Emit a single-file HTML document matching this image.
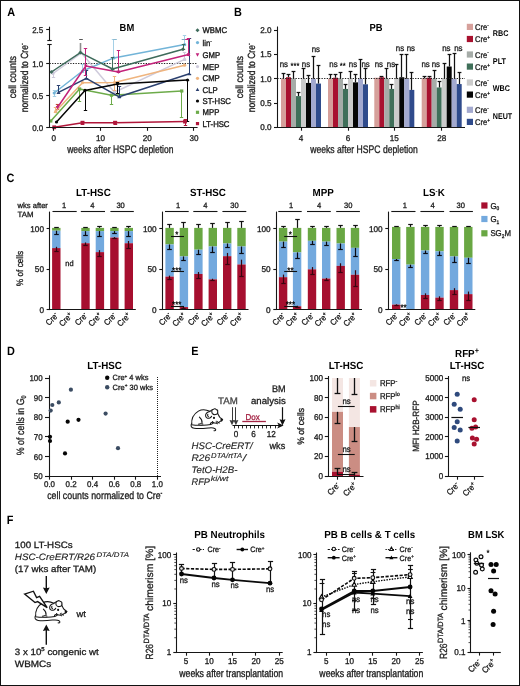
<!DOCTYPE html>
<html lang="en"><head><meta charset="utf-8"><title>Figure</title>
<style>
html,body{margin:0;padding:0;background:#fff;}
body{width:520px;height:686px;overflow:hidden;}
svg{display:block;font-family:"Liberation Sans",sans-serif;filter:blur(0.4px);}
#fig{position:relative;width:520px;height:686px;box-sizing:border-box;}
#frame{position:absolute;left:0;top:0;width:520px;height:686px;box-sizing:border-box;border:1px solid #111;pointer-events:none;}
</style></head><body>
<div id="fig">
<svg width="520" height="686" viewBox="0 0 520 686" text-rendering="geometricPrecision">
<rect x="0" y="0" width="520" height="686" fill="#fff"/>
<text transform="translate(7.2,16.2) scale(0.9,1)" font-size="12.1" text-anchor="start" fill="#000" font-weight="bold">A</text>
<text transform="translate(126.9,30.9) scale(0.91,1)" font-size="10.3" text-anchor="middle" fill="#000" font-weight="bold">BM</text>
<text transform="translate(15.8,77.2) rotate(-90) scale(0.86,1)" font-size="10.4" text-anchor="middle" fill="#1a1a1a" stroke="#1a1a1a" stroke-width="0.3">cell counts</text>
<text transform="translate(27.6,77.8) rotate(-90) scale(0.82,1)" font-size="10.4" text-anchor="middle" fill="#1a1a1a" stroke="#1a1a1a" stroke-width="0.3">normalized to Cre<tspan dy="-3.74" font-size="6.45">-</tspan></text>
<line x1="49.5" y1="63.5" x2="197.6" y2="63.5" stroke="#222" stroke-width="1" stroke-dasharray="1.3 1.3"/>
<line x1="80.5" y1="43" x2="80.5" y2="52" stroke="#8c8c8c" stroke-width="1.6"/>
<line x1="80.5" y1="43" x2="80.5" y2="43" stroke="#8c8c8c" stroke-width="1.6"/>
<line x1="80.5" y1="52" x2="80.5" y2="52" stroke="#8c8c8c" stroke-width="1.6"/>
<line x1="57.5" y1="104.4" x2="57.5" y2="109.2" stroke="#c4453c" stroke-width="1.1"/>
<line x1="55.8" y1="104.5" x2="59.2" y2="104.5" stroke="#c4453c" stroke-width="1.1"/>
<line x1="55.8" y1="109.5" x2="59.2" y2="109.5" stroke="#c4453c" stroke-width="1.1"/>
<line x1="53.5" y1="70" x2="53.5" y2="77" stroke="#cfcbdc" stroke-width="1"/>
<line x1="51.8" y1="70.5" x2="55.2" y2="70.5" stroke="#cfcbdc" stroke-width="1"/>
<line x1="51.8" y1="77.5" x2="55.2" y2="77.5" stroke="#cfcbdc" stroke-width="1"/>
<line x1="184.5" y1="52" x2="184.5" y2="60" stroke="#cfcbdc" stroke-width="1"/>
<line x1="182.8" y1="52.5" x2="186.2" y2="52.5" stroke="#cfcbdc" stroke-width="1"/>
<line x1="182.8" y1="60.5" x2="186.2" y2="60.5" stroke="#cfcbdc" stroke-width="1"/>
<path d="M53 73.5 L81.5 53 L114.4 92.3 L184.6 59.4" stroke="#cfcbdc" stroke-width="1.5" fill="none" stroke-linejoin="round"/>
<circle cx="53" cy="73.5" r="1.6" fill="#cfcbdc"/>
<circle cx="81.5" cy="53" r="1.6" fill="#cfcbdc"/>
<circle cx="114.4" cy="92.3" r="1.6" fill="#cfcbdc"/>
<circle cx="184.6" cy="59.4" r="1.6" fill="#cfcbdc"/>
<line x1="55.5" y1="107" x2="55.5" y2="112" stroke="#efb47e" stroke-width="1"/>
<line x1="53.8" y1="107.5" x2="57.2" y2="107.5" stroke="#efb47e" stroke-width="1"/>
<line x1="53.8" y1="112.5" x2="57.2" y2="112.5" stroke="#efb47e" stroke-width="1"/>
<line x1="114.5" y1="76" x2="114.5" y2="90" stroke="#efb47e" stroke-width="1"/>
<line x1="112.8" y1="76.5" x2="116.2" y2="76.5" stroke="#efb47e" stroke-width="1"/>
<line x1="112.8" y1="90.5" x2="116.2" y2="90.5" stroke="#efb47e" stroke-width="1"/>
<path d="M55.6 111.6 L82.5 82.7 L114.4 82.5 L184.6 65.2" stroke="#efb47e" stroke-width="1.5" fill="none" stroke-linejoin="round"/>
<circle cx="55.6" cy="111.6" r="1.6" fill="#efb47e"/>
<circle cx="82.5" cy="82.7" r="1.6" fill="#efb47e"/>
<circle cx="114.4" cy="82.5" r="1.6" fill="#efb47e"/>
<circle cx="184.6" cy="65.2" r="1.6" fill="#efb47e"/>
<line x1="54.5" y1="90" x2="54.5" y2="96" stroke="#a5d0e6" stroke-width="1"/>
<line x1="52.8" y1="90.5" x2="56.2" y2="90.5" stroke="#a5d0e6" stroke-width="1"/>
<line x1="52.8" y1="96.5" x2="56.2" y2="96.5" stroke="#a5d0e6" stroke-width="1"/>
<line x1="82.5" y1="64" x2="82.5" y2="72" stroke="#a5d0e6" stroke-width="1"/>
<line x1="80.8" y1="64.5" x2="84.2" y2="64.5" stroke="#a5d0e6" stroke-width="1"/>
<line x1="80.8" y1="72.5" x2="84.2" y2="72.5" stroke="#a5d0e6" stroke-width="1"/>
<line x1="113.5" y1="39" x2="113.5" y2="58" stroke="#a5d0e6" stroke-width="1"/>
<line x1="111.8" y1="39.5" x2="115.2" y2="39.5" stroke="#a5d0e6" stroke-width="1"/>
<line x1="111.8" y1="58.5" x2="115.2" y2="58.5" stroke="#a5d0e6" stroke-width="1"/>
<line x1="184.5" y1="35" x2="184.5" y2="45" stroke="#a5d0e6" stroke-width="1"/>
<line x1="182.8" y1="35.5" x2="186.2" y2="35.5" stroke="#a5d0e6" stroke-width="1"/>
<line x1="182.8" y1="45.5" x2="186.2" y2="45.5" stroke="#a5d0e6" stroke-width="1"/>
<path d="M54.2 93 L82.5 71 L113.8 57.9 L184.6 44.6" stroke="#72b4d8" stroke-width="1.5" fill="none" stroke-linejoin="round"/>
<circle cx="54.2" cy="93" r="1.6" fill="#72b4d8"/>
<circle cx="82.5" cy="71" r="1.6" fill="#72b4d8"/>
<circle cx="113.8" cy="57.9" r="1.6" fill="#72b4d8"/>
<circle cx="184.6" cy="44.6" r="1.6" fill="#72b4d8"/>
<line x1="79.5" y1="89" x2="79.5" y2="101" stroke="#6dab4a" stroke-width="1"/>
<line x1="77.8" y1="89.5" x2="81.2" y2="89.5" stroke="#6dab4a" stroke-width="1"/>
<line x1="77.8" y1="101.5" x2="81.2" y2="101.5" stroke="#6dab4a" stroke-width="1"/>
<line x1="111.5" y1="95" x2="111.5" y2="104.5" stroke="#6dab4a" stroke-width="1"/>
<line x1="109.8" y1="95.5" x2="113.2" y2="95.5" stroke="#6dab4a" stroke-width="1"/>
<line x1="109.8" y1="104.5" x2="113.2" y2="104.5" stroke="#6dab4a" stroke-width="1"/>
<line x1="181.5" y1="91" x2="181.5" y2="117.3" stroke="#6dab4a" stroke-width="1"/>
<line x1="179.8" y1="91.5" x2="183.2" y2="91.5" stroke="#6dab4a" stroke-width="1"/>
<line x1="179.8" y1="117.5" x2="183.2" y2="117.5" stroke="#6dab4a" stroke-width="1"/>
<path d="M50.8 121 L79.6 89 L111.5 95.2 L181.7 91" stroke="#6dab4a" stroke-width="1.5" fill="none" stroke-linejoin="round"/>
<rect x="49.2" y="119.4" width="3.2" height="3.2" fill="#6dab4a"/>
<rect x="78" y="87.4" width="3.2" height="3.2" fill="#6dab4a"/>
<rect x="109.9" y="93.6" width="3.2" height="3.2" fill="#6dab4a"/>
<rect x="180.1" y="89.4" width="3.2" height="3.2" fill="#6dab4a"/>
<line x1="58.5" y1="85" x2="58.5" y2="93" stroke="#2b406f" stroke-width="1"/>
<line x1="56.8" y1="85.5" x2="60.2" y2="85.5" stroke="#2b406f" stroke-width="1"/>
<line x1="56.8" y1="93.5" x2="60.2" y2="93.5" stroke="#2b406f" stroke-width="1"/>
<line x1="86.5" y1="70" x2="86.5" y2="78.3" stroke="#2b406f" stroke-width="1"/>
<line x1="84.8" y1="70.5" x2="88.2" y2="70.5" stroke="#2b406f" stroke-width="1"/>
<line x1="84.8" y1="78.5" x2="88.2" y2="78.5" stroke="#2b406f" stroke-width="1"/>
<line x1="119.5" y1="86" x2="119.5" y2="97" stroke="#2b406f" stroke-width="1"/>
<line x1="117.8" y1="86.5" x2="121.2" y2="86.5" stroke="#2b406f" stroke-width="1"/>
<line x1="117.8" y1="97.5" x2="121.2" y2="97.5" stroke="#2b406f" stroke-width="1"/>
<line x1="189.5" y1="38" x2="189.5" y2="74" stroke="#2b406f" stroke-width="1"/>
<line x1="187.8" y1="38.5" x2="191.2" y2="38.5" stroke="#2b406f" stroke-width="1"/>
<line x1="187.8" y1="74.5" x2="191.2" y2="74.5" stroke="#2b406f" stroke-width="1"/>
<path d="M58.5 92.3 L86.3 78.3 L119.2 96.8 L189.4 73.8" stroke="#2b406f" stroke-width="1.5" fill="none" stroke-linejoin="round"/>
<path d="M58.5 90.38 l1.84 3.36 l-3.68 0 z" fill="#2b406f"/>
<path d="M86.3 76.38 l1.84 3.36 l-3.68 0 z" fill="#2b406f"/>
<path d="M119.2 94.88 l1.84 3.36 l-3.68 0 z" fill="#2b406f"/>
<path d="M189.4 71.88 l1.84 3.36 l-3.68 0 z" fill="#2b406f"/>
<line x1="85.5" y1="90.4" x2="85.5" y2="110" stroke="#050505" stroke-width="1"/>
<line x1="83.8" y1="90.5" x2="87.2" y2="90.5" stroke="#050505" stroke-width="1"/>
<line x1="83.8" y1="110.5" x2="87.2" y2="110.5" stroke="#050505" stroke-width="1"/>
<line x1="117.5" y1="82" x2="117.5" y2="93" stroke="#050505" stroke-width="1"/>
<line x1="115.8" y1="82.5" x2="119.2" y2="82.5" stroke="#050505" stroke-width="1"/>
<line x1="115.8" y1="93.5" x2="119.2" y2="93.5" stroke="#050505" stroke-width="1"/>
<line x1="187.5" y1="80" x2="187.5" y2="121" stroke="#050505" stroke-width="1"/>
<line x1="185.8" y1="80.5" x2="189.2" y2="80.5" stroke="#050505" stroke-width="1"/>
<line x1="185.8" y1="121.5" x2="189.2" y2="121.5" stroke="#050505" stroke-width="1"/>
<path d="M56.5 122 L85 90.4 L117.5 84 L187.5 80" stroke="#050505" stroke-width="1.5" fill="none" stroke-linejoin="round"/>
<circle cx="56.5" cy="122" r="1.6" fill="#050505"/>
<circle cx="85" cy="90.4" r="1.6" fill="#050505"/>
<circle cx="117.5" cy="84" r="1.6" fill="#050505"/>
<circle cx="187.5" cy="80" r="1.6" fill="#050505"/>
<line x1="85.5" y1="48.8" x2="85.5" y2="75" stroke="#c3237b" stroke-width="1"/>
<line x1="83.8" y1="48.5" x2="87.2" y2="48.5" stroke="#c3237b" stroke-width="1"/>
<line x1="83.8" y1="75.5" x2="87.2" y2="75.5" stroke="#c3237b" stroke-width="1"/>
<line x1="118.5" y1="50.8" x2="118.5" y2="72" stroke="#c3237b" stroke-width="1"/>
<line x1="116.8" y1="50.5" x2="120.2" y2="50.5" stroke="#c3237b" stroke-width="1"/>
<line x1="116.8" y1="72.5" x2="120.2" y2="72.5" stroke="#c3237b" stroke-width="1"/>
<line x1="188.5" y1="38" x2="188.5" y2="55.6" stroke="#c3237b" stroke-width="1"/>
<line x1="186.8" y1="38.5" x2="190.2" y2="38.5" stroke="#c3237b" stroke-width="1"/>
<line x1="186.8" y1="55.5" x2="190.2" y2="55.5" stroke="#c3237b" stroke-width="1"/>
<path d="M57.5 107.5 L85.8 66 L118.3 72 L188.5 54.6" stroke="#c3237b" stroke-width="1.5" fill="none" stroke-linejoin="round"/>
<path d="M57.5 109.42 l1.84 -3.36 l-3.68 0 z" fill="#c3237b"/>
<path d="M85.8 67.92 l1.84 -3.36 l-3.68 0 z" fill="#c3237b"/>
<path d="M118.3 73.92 l1.84 -3.36 l-3.68 0 z" fill="#c3237b"/>
<path d="M188.5 56.52 l1.84 -3.36 l-3.68 0 z" fill="#c3237b"/>
<line x1="112.5" y1="57" x2="112.5" y2="69" stroke="#3e6b5b" stroke-width="1"/>
<line x1="110.8" y1="57.5" x2="114.2" y2="57.5" stroke="#3e6b5b" stroke-width="1"/>
<line x1="110.8" y1="69.5" x2="114.2" y2="69.5" stroke="#3e6b5b" stroke-width="1"/>
<line x1="183.5" y1="44" x2="183.5" y2="49" stroke="#3e6b5b" stroke-width="1"/>
<line x1="181.8" y1="44.5" x2="185.2" y2="44.5" stroke="#3e6b5b" stroke-width="1"/>
<line x1="181.8" y1="49.5" x2="185.2" y2="49.5" stroke="#3e6b5b" stroke-width="1"/>
<path d="M51.4 72 L80.4 52.6 L112.6 69 L183 49.2" stroke="#3e6b5b" stroke-width="1.5" fill="none" stroke-linejoin="round"/>
<path d="M51.4 70 l2 2 l-2 2 l-2 -2 z" fill="#3e6b5b"/>
<path d="M80.4 50.6 l2 2 l-2 2 l-2 -2 z" fill="#3e6b5b"/>
<path d="M112.6 67 l2 2 l-2 2 l-2 -2 z" fill="#3e6b5b"/>
<path d="M183 47.2 l2 2 l-2 2 l-2 -2 z" fill="#3e6b5b"/>
<line x1="82.5" y1="121.5" x2="82.5" y2="124" stroke="#b0163a" stroke-width="1"/>
<line x1="80.8" y1="121.5" x2="84.2" y2="121.5" stroke="#b0163a" stroke-width="1"/>
<line x1="80.8" y1="124.5" x2="84.2" y2="124.5" stroke="#b0163a" stroke-width="1"/>
<line x1="115.5" y1="121.5" x2="115.5" y2="124" stroke="#b0163a" stroke-width="1"/>
<line x1="113.8" y1="121.5" x2="117.2" y2="121.5" stroke="#b0163a" stroke-width="1"/>
<line x1="113.8" y1="124.5" x2="117.2" y2="124.5" stroke="#b0163a" stroke-width="1"/>
<line x1="185.5" y1="119.3" x2="185.5" y2="125" stroke="#b0163a" stroke-width="1"/>
<line x1="183.8" y1="119.5" x2="187.2" y2="119.5" stroke="#b0163a" stroke-width="1"/>
<line x1="183.8" y1="125.5" x2="187.2" y2="125.5" stroke="#b0163a" stroke-width="1"/>
<path d="M54.2 127.3 L82.5 122.7 L115 122.7 L185 121.6" stroke="#b0163a" stroke-width="1.5" fill="none" stroke-linejoin="round"/>
<rect x="52.3" y="125.4" width="3.8" height="3.8" fill="#b0163a"/>
<rect x="80.6" y="120.8" width="3.8" height="3.8" fill="#b0163a"/>
<rect x="113.1" y="120.8" width="3.8" height="3.8" fill="#b0163a"/>
<rect x="183.1" y="119.7" width="3.8" height="3.8" fill="#b0163a"/>
<line x1="79.2" y1="39.5" x2="82.8" y2="39.5" stroke="#555" stroke-width="1"/>
<line x1="113.2" y1="39.5" x2="116.8" y2="39.5" stroke="#8ab9cf" stroke-width="1"/>
<line x1="181.7" y1="39.5" x2="185.3" y2="39.5" stroke="#7aa9bf" stroke-width="1"/>
<line x1="185.2" y1="39.5" x2="188.8" y2="39.5" stroke="#c3237b" stroke-width="1"/>
<line x1="49.5" y1="26.7" x2="49.5" y2="40.5" stroke="#161616" stroke-width="1.1"/>
<line x1="47.3" y1="40.5" x2="51.7" y2="40.5" stroke="#161616" stroke-width="1.1"/>
<line x1="47.3" y1="44.5" x2="51.7" y2="44.5" stroke="#161616" stroke-width="1.1"/>
<line x1="49.5" y1="44.5" x2="49.5" y2="128.05" stroke="#161616" stroke-width="1.1"/>
<line x1="46.2" y1="29.5" x2="49.5" y2="29.5" stroke="#161616" stroke-width="1.1"/>
<text transform="translate(43.2,32.7) scale(0.95,1)" font-size="8.4" text-anchor="end" fill="#1a1a1a" stroke="#1a1a1a" stroke-width="0.3">2.5</text>
<line x1="46.2" y1="63.5" x2="49.5" y2="63.5" stroke="#161616" stroke-width="1.1"/>
<text transform="translate(43.2,66.7) scale(0.95,1)" font-size="8.4" text-anchor="end" fill="#1a1a1a" stroke="#1a1a1a" stroke-width="0.3">1.0</text>
<line x1="46.2" y1="95.5" x2="49.5" y2="95.5" stroke="#161616" stroke-width="1.1"/>
<text transform="translate(43.2,98.7) scale(0.95,1)" font-size="8.4" text-anchor="end" fill="#1a1a1a" stroke="#1a1a1a" stroke-width="0.3">0.5</text>
<line x1="46.2" y1="127.5" x2="49.5" y2="127.5" stroke="#161616" stroke-width="1.1"/>
<text transform="translate(43.2,130.7) scale(0.95,1)" font-size="8.4" text-anchor="end" fill="#1a1a1a" stroke="#1a1a1a" stroke-width="0.3">0.0</text>
<line x1="48.95" y1="127.5" x2="197.6" y2="127.5" stroke="#161616" stroke-width="1.1"/>
<line x1="53.5" y1="127.5" x2="53.5" y2="130.8" stroke="#161616" stroke-width="1.1"/>
<text transform="translate(53.8,141) scale(0.97,1)" font-size="8.4" text-anchor="middle" fill="#1a1a1a" stroke="#1a1a1a" stroke-width="0.3">0</text>
<line x1="100.5" y1="127.5" x2="100.5" y2="130.8" stroke="#161616" stroke-width="1.1"/>
<text transform="translate(100.5,141) scale(0.97,1)" font-size="8.4" text-anchor="middle" fill="#1a1a1a" stroke="#1a1a1a" stroke-width="0.3">10</text>
<line x1="147.5" y1="127.5" x2="147.5" y2="130.8" stroke="#161616" stroke-width="1.1"/>
<text transform="translate(147.3,141) scale(0.97,1)" font-size="8.4" text-anchor="middle" fill="#1a1a1a" stroke="#1a1a1a" stroke-width="0.3">20</text>
<line x1="193.5" y1="127.5" x2="193.5" y2="130.8" stroke="#161616" stroke-width="1.1"/>
<text transform="translate(193.9,141) scale(0.97,1)" font-size="8.4" text-anchor="middle" fill="#1a1a1a" stroke="#1a1a1a" stroke-width="0.3">30</text>
<text transform="translate(120.3,153.2) scale(0.78,1)" font-size="10.9" text-anchor="middle" fill="#1a1a1a" stroke="#1a1a1a" stroke-width="0.3">weeks after HSPC depletion</text>
<path d="M197.5 28.3 l2 2 l-2 2 l-2 -2 z" fill="#3e6b5b"/>
<text transform="translate(202.6,33.4) scale(0.92,1)" font-size="8.4" text-anchor="start" fill="#1a1a1a" stroke="#1a1a1a" stroke-width="0.38">WBMC</text>
<circle cx="197.5" cy="42.6" r="1.6" fill="#72b4d8"/>
<text transform="translate(202.6,45.7) scale(0.92,1)" font-size="8.4" text-anchor="start" fill="#1a1a1a" stroke="#1a1a1a" stroke-width="0.38">lin<tspan dy="-3.02" font-size="5.21">-</tspan></text>
<path d="M197.5 56.72 l1.84 -3.36 l-3.68 0 z" fill="#c3237b"/>
<text transform="translate(202.6,57.9) scale(0.92,1)" font-size="8.4" text-anchor="start" fill="#1a1a1a" stroke="#1a1a1a" stroke-width="0.38">GMP</text>
<circle cx="197.5" cy="66.6" r="1.6" fill="#cfcbdc"/>
<text transform="translate(202.6,69.7) scale(0.92,1)" font-size="8.4" text-anchor="start" fill="#1a1a1a" stroke="#1a1a1a" stroke-width="0.38">MEP</text>
<circle cx="197.5" cy="78.3" r="1.6" fill="#efb47e"/>
<text transform="translate(202.6,81.4) scale(0.92,1)" font-size="8.4" text-anchor="start" fill="#1a1a1a" stroke="#1a1a1a" stroke-width="0.38">CMP</text>
<path d="M197.5 87.68 l1.84 3.36 l-3.68 0 z" fill="#2b406f"/>
<text transform="translate(202.6,92.7) scale(0.92,1)" font-size="8.4" text-anchor="start" fill="#1a1a1a" stroke="#1a1a1a" stroke-width="0.38">CLP</text>
<circle cx="197.5" cy="101" r="1.6" fill="#050505"/>
<text transform="translate(202.6,104.1) scale(0.92,1)" font-size="8.4" text-anchor="start" fill="#1a1a1a" stroke="#1a1a1a" stroke-width="0.38">ST-HSC</text>
<rect x="195.9" y="110.7" width="3.2" height="3.2" fill="#6dab4a"/>
<text transform="translate(202.6,115.4) scale(0.92,1)" font-size="8.4" text-anchor="start" fill="#1a1a1a" stroke="#1a1a1a" stroke-width="0.38">MPP</text>
<rect x="195.9" y="122" width="3.2" height="3.2" fill="#b0163a"/>
<text transform="translate(202.6,126.7) scale(0.92,1)" font-size="8.4" text-anchor="start" fill="#1a1a1a" stroke="#1a1a1a" stroke-width="0.38">LT-HSC</text>
<text transform="translate(234,16.2) scale(0.9,1)" font-size="12.1" text-anchor="start" fill="#000" font-weight="bold">B</text>
<text transform="translate(376,30.9) scale(0.91,1)" font-size="10.3" text-anchor="middle" fill="#000" font-weight="bold">PB</text>
<text transform="translate(242.8,77.2) rotate(-90) scale(0.86,1)" font-size="10.4" text-anchor="middle" fill="#1a1a1a" stroke="#1a1a1a" stroke-width="0.3">cell counts</text>
<text transform="translate(254.6,77.8) rotate(-90) scale(0.82,1)" font-size="10.4" text-anchor="middle" fill="#1a1a1a" stroke="#1a1a1a" stroke-width="0.3">normalized to Cre<tspan dy="-3.74" font-size="6.45">-</tspan></text>
<rect x="281" y="78.7" width="5" height="48.7" fill="#d6a09b"/>
<line x1="283.5" y1="73.83" x2="283.5" y2="78.7" stroke="#111" stroke-width="1.25"/>
<line x1="281.6" y1="73.5" x2="285.4" y2="73.5" stroke="#111" stroke-width="1.25"/>
<rect x="286" y="77.24" width="5" height="50.16" fill="#a8112f"/>
<line x1="288.5" y1="74.32" x2="288.5" y2="77.24" stroke="#111" stroke-width="1.25"/>
<line x1="286.6" y1="74.5" x2="290.4" y2="74.5" stroke="#111" stroke-width="1.25"/>
<rect x="291" y="78.7" width="5" height="48.7" fill="#a6aca8"/>
<line x1="293.5" y1="71.4" x2="293.5" y2="78.7" stroke="#111" stroke-width="1.25"/>
<line x1="291.6" y1="71.5" x2="295.4" y2="71.5" stroke="#111" stroke-width="1.25"/>
<rect x="296" y="96.09" width="5" height="31.31" fill="#3f6f59"/>
<line x1="298.5" y1="92.34" x2="298.5" y2="96.09" stroke="#111" stroke-width="1.25"/>
<line x1="296.6" y1="92.5" x2="300.4" y2="92.5" stroke="#111" stroke-width="1.25"/>
<rect x="301" y="78.7" width="5" height="48.7" fill="#cbcbcb"/>
<line x1="303.5" y1="68.47" x2="303.5" y2="78.7" stroke="#111" stroke-width="1.25"/>
<line x1="301.6" y1="68.5" x2="305.4" y2="68.5" stroke="#111" stroke-width="1.25"/>
<rect x="306" y="82.94" width="5" height="44.46" fill="#050505"/>
<line x1="308.5" y1="75.78" x2="308.5" y2="82.94" stroke="#111" stroke-width="1.25"/>
<line x1="306.6" y1="75.5" x2="310.4" y2="75.5" stroke="#111" stroke-width="1.25"/>
<rect x="311" y="78.7" width="5" height="48.7" fill="#a3a9cf"/>
<line x1="313.5" y1="56.49" x2="313.5" y2="78.7" stroke="#111" stroke-width="1.25"/>
<line x1="311.6" y1="56.5" x2="315.4" y2="56.5" stroke="#111" stroke-width="1.25"/>
<rect x="316" y="83.57" width="5" height="43.83" fill="#2f4b8c"/>
<line x1="318.5" y1="65.16" x2="318.5" y2="83.57" stroke="#111" stroke-width="1.25"/>
<line x1="316.6" y1="65.5" x2="320.4" y2="65.5" stroke="#111" stroke-width="1.25"/>
<rect x="328" y="78.7" width="5" height="48.7" fill="#d6a09b"/>
<line x1="330.5" y1="74.32" x2="330.5" y2="78.7" stroke="#111" stroke-width="1.25"/>
<line x1="328.6" y1="74.5" x2="332.4" y2="74.5" stroke="#111" stroke-width="1.25"/>
<rect x="333" y="77.73" width="5" height="49.67" fill="#a8112f"/>
<line x1="335.5" y1="74.8" x2="335.5" y2="77.73" stroke="#111" stroke-width="1.25"/>
<line x1="333.6" y1="74.5" x2="337.4" y2="74.5" stroke="#111" stroke-width="1.25"/>
<rect x="338" y="78.7" width="5" height="48.7" fill="#a6aca8"/>
<line x1="340.5" y1="72.37" x2="340.5" y2="78.7" stroke="#111" stroke-width="1.25"/>
<line x1="338.6" y1="72.5" x2="342.4" y2="72.5" stroke="#111" stroke-width="1.25"/>
<rect x="343" y="88.93" width="5" height="38.47" fill="#3f6f59"/>
<line x1="345.5" y1="84.06" x2="345.5" y2="88.93" stroke="#111" stroke-width="1.25"/>
<line x1="343.6" y1="84.5" x2="347.4" y2="84.5" stroke="#111" stroke-width="1.25"/>
<rect x="348" y="78.7" width="5" height="48.7" fill="#cbcbcb"/>
<line x1="350.5" y1="71.4" x2="350.5" y2="78.7" stroke="#111" stroke-width="1.25"/>
<line x1="348.6" y1="71.5" x2="352.4" y2="71.5" stroke="#111" stroke-width="1.25"/>
<rect x="353" y="82.35" width="5" height="45.05" fill="#050505"/>
<line x1="355.5" y1="74.8" x2="355.5" y2="82.35" stroke="#111" stroke-width="1.25"/>
<line x1="353.6" y1="74.5" x2="357.4" y2="74.5" stroke="#111" stroke-width="1.25"/>
<rect x="358" y="78.7" width="5" height="48.7" fill="#a3a9cf"/>
<line x1="360.5" y1="59.71" x2="360.5" y2="78.7" stroke="#111" stroke-width="1.25"/>
<line x1="358.6" y1="59.5" x2="362.4" y2="59.5" stroke="#111" stroke-width="1.25"/>
<rect x="363" y="84.3" width="5" height="43.1" fill="#2f4b8c"/>
<line x1="365.5" y1="68.47" x2="365.5" y2="84.3" stroke="#111" stroke-width="1.25"/>
<line x1="363.6" y1="68.5" x2="367.4" y2="68.5" stroke="#111" stroke-width="1.25"/>
<rect x="374.3" y="77.73" width="5" height="49.67" fill="#d6a09b"/>
<rect x="379.3" y="77.24" width="5" height="50.16" fill="#a8112f"/>
<line x1="381.5" y1="76.27" x2="381.5" y2="77.24" stroke="#111" stroke-width="1.25"/>
<line x1="379.6" y1="76.5" x2="383.4" y2="76.5" stroke="#111" stroke-width="1.25"/>
<rect x="384.3" y="78.7" width="5" height="48.7" fill="#a6aca8"/>
<line x1="386.5" y1="68.96" x2="386.5" y2="78.7" stroke="#111" stroke-width="1.25"/>
<line x1="384.6" y1="68.5" x2="388.4" y2="68.5" stroke="#111" stroke-width="1.25"/>
<rect x="389.3" y="88.93" width="5" height="38.47" fill="#3f6f59"/>
<line x1="391.5" y1="84.06" x2="391.5" y2="88.93" stroke="#111" stroke-width="1.25"/>
<line x1="389.6" y1="84.5" x2="393.4" y2="84.5" stroke="#111" stroke-width="1.25"/>
<rect x="394.3" y="78.7" width="5" height="48.7" fill="#cbcbcb"/>
<line x1="396.5" y1="64.58" x2="396.5" y2="78.7" stroke="#111" stroke-width="1.25"/>
<line x1="394.6" y1="64.5" x2="398.4" y2="64.5" stroke="#111" stroke-width="1.25"/>
<rect x="399.3" y="77.24" width="5" height="50.16" fill="#050505"/>
<line x1="401.5" y1="54.35" x2="401.5" y2="77.24" stroke="#111" stroke-width="1.25"/>
<line x1="399.6" y1="54.5" x2="403.4" y2="54.5" stroke="#111" stroke-width="1.25"/>
<rect x="404.3" y="78.7" width="5" height="48.7" fill="#a3a9cf"/>
<line x1="406.5" y1="54.84" x2="406.5" y2="78.7" stroke="#111" stroke-width="1.25"/>
<line x1="404.6" y1="54.5" x2="408.4" y2="54.5" stroke="#111" stroke-width="1.25"/>
<rect x="409.3" y="89.9" width="5" height="37.5" fill="#2f4b8c"/>
<line x1="411.5" y1="72.86" x2="411.5" y2="89.9" stroke="#111" stroke-width="1.25"/>
<line x1="409.6" y1="72.5" x2="413.4" y2="72.5" stroke="#111" stroke-width="1.25"/>
<rect x="421.7" y="78.21" width="5" height="49.19" fill="#d6a09b"/>
<line x1="424.5" y1="76.75" x2="424.5" y2="78.21" stroke="#111" stroke-width="1.25"/>
<line x1="422.6" y1="76.5" x2="426.4" y2="76.5" stroke="#111" stroke-width="1.25"/>
<rect x="426.7" y="77.73" width="5" height="49.67" fill="#a8112f"/>
<line x1="429.5" y1="76.75" x2="429.5" y2="77.73" stroke="#111" stroke-width="1.25"/>
<line x1="427.6" y1="76.5" x2="431.4" y2="76.5" stroke="#111" stroke-width="1.25"/>
<rect x="431.7" y="78.7" width="5" height="48.7" fill="#a6aca8"/>
<line x1="434.5" y1="70.91" x2="434.5" y2="78.7" stroke="#111" stroke-width="1.25"/>
<line x1="432.6" y1="70.5" x2="436.4" y2="70.5" stroke="#111" stroke-width="1.25"/>
<rect x="436.7" y="87.47" width="5" height="39.93" fill="#3f6f59"/>
<line x1="439.5" y1="81.62" x2="439.5" y2="87.47" stroke="#111" stroke-width="1.25"/>
<line x1="437.6" y1="81.5" x2="441.4" y2="81.5" stroke="#111" stroke-width="1.25"/>
<rect x="441.7" y="78.7" width="5" height="48.7" fill="#cbcbcb"/>
<line x1="444.5" y1="63.12" x2="444.5" y2="78.7" stroke="#111" stroke-width="1.25"/>
<line x1="442.6" y1="63.5" x2="446.4" y2="63.5" stroke="#111" stroke-width="1.25"/>
<rect x="446.7" y="66.53" width="5" height="60.88" fill="#050505"/>
<line x1="449.5" y1="54.35" x2="449.5" y2="66.53" stroke="#111" stroke-width="1.25"/>
<line x1="447.6" y1="54.5" x2="451.4" y2="54.5" stroke="#111" stroke-width="1.25"/>
<rect x="451.7" y="78.7" width="5" height="48.7" fill="#a3a9cf"/>
<line x1="454.5" y1="53.86" x2="454.5" y2="78.7" stroke="#111" stroke-width="1.25"/>
<line x1="452.6" y1="53.5" x2="456.4" y2="53.5" stroke="#111" stroke-width="1.25"/>
<rect x="456.7" y="84.06" width="5" height="43.34" fill="#2f4b8c"/>
<line x1="459.5" y1="72.86" x2="459.5" y2="84.06" stroke="#111" stroke-width="1.25"/>
<line x1="457.6" y1="72.5" x2="461.4" y2="72.5" stroke="#111" stroke-width="1.25"/>
<line x1="277.3" y1="78.5" x2="465" y2="78.5" stroke="#222" stroke-width="1" stroke-dasharray="1.3 1.3"/>
<line x1="277.5" y1="26.5" x2="277.5" y2="127.95" stroke="#161616" stroke-width="1.1"/>
<line x1="274" y1="30.5" x2="277.3" y2="30.5" stroke="#161616" stroke-width="1.1"/>
<text transform="translate(271.6,33) scale(0.97,1)" font-size="8.4" text-anchor="end" fill="#1a1a1a" stroke="#1a1a1a" stroke-width="0.3">2.0</text>
<line x1="274" y1="54.5" x2="277.3" y2="54.5" stroke="#161616" stroke-width="1.1"/>
<text transform="translate(271.6,57.35) scale(0.97,1)" font-size="8.4" text-anchor="end" fill="#1a1a1a" stroke="#1a1a1a" stroke-width="0.3">1.5</text>
<line x1="274" y1="78.5" x2="277.3" y2="78.5" stroke="#161616" stroke-width="1.1"/>
<text transform="translate(271.6,81.7) scale(0.97,1)" font-size="8.4" text-anchor="end" fill="#1a1a1a" stroke="#1a1a1a" stroke-width="0.3">1.0</text>
<line x1="274" y1="103.5" x2="277.3" y2="103.5" stroke="#161616" stroke-width="1.1"/>
<text transform="translate(271.6,106.05) scale(0.97,1)" font-size="8.4" text-anchor="end" fill="#1a1a1a" stroke="#1a1a1a" stroke-width="0.3">0.5</text>
<line x1="274" y1="127.5" x2="277.3" y2="127.5" stroke="#161616" stroke-width="1.1"/>
<text transform="translate(271.6,130.4) scale(0.97,1)" font-size="8.4" text-anchor="end" fill="#1a1a1a" stroke="#1a1a1a" stroke-width="0.3">0.0</text>
<line x1="276.75" y1="127.5" x2="465" y2="127.5" stroke="#161616" stroke-width="1.1"/>
<line x1="301.5" y1="127.4" x2="301.5" y2="130.7" stroke="#161616" stroke-width="1.1"/>
<text transform="translate(301,141) scale(0.97,1)" font-size="8.4" text-anchor="middle" fill="#1a1a1a" stroke="#1a1a1a" stroke-width="0.3">4</text>
<line x1="348.5" y1="127.4" x2="348.5" y2="130.7" stroke="#161616" stroke-width="1.1"/>
<text transform="translate(348,141) scale(0.97,1)" font-size="8.4" text-anchor="middle" fill="#1a1a1a" stroke="#1a1a1a" stroke-width="0.3">6</text>
<line x1="394.5" y1="127.4" x2="394.5" y2="130.7" stroke="#161616" stroke-width="1.1"/>
<text transform="translate(394.3,141) scale(0.97,1)" font-size="8.4" text-anchor="middle" fill="#1a1a1a" stroke="#1a1a1a" stroke-width="0.3">15</text>
<line x1="441.5" y1="127.4" x2="441.5" y2="130.7" stroke="#161616" stroke-width="1.1"/>
<text transform="translate(441.7,141) scale(0.97,1)" font-size="8.4" text-anchor="middle" fill="#1a1a1a" stroke="#1a1a1a" stroke-width="0.3">28</text>
<text transform="translate(364,153.2) scale(0.79,1)" font-size="10.9" text-anchor="middle" fill="#1a1a1a" stroke="#1a1a1a" stroke-width="0.3">weeks after HSPC depletion</text>
<text transform="translate(283.8,66.6) scale(0.92,1)" font-size="8.6" text-anchor="middle" fill="#1a1a1a" stroke="#1a1a1a" stroke-width="0.3">ns</text>
<text transform="translate(295,69) scale(0.82,1)" font-size="9.2" text-anchor="middle" fill="#000" font-weight="bold">***</text>
<text transform="translate(306,66.6) scale(0.92,1)" font-size="8.6" text-anchor="middle" fill="#1a1a1a" stroke="#1a1a1a" stroke-width="0.3">ns</text>
<text transform="translate(315.8,51.6) scale(0.92,1)" font-size="8.6" text-anchor="middle" fill="#1a1a1a" stroke="#1a1a1a" stroke-width="0.3">ns</text>
<text transform="translate(333.5,66.6) scale(0.92,1)" font-size="8.6" text-anchor="middle" fill="#1a1a1a" stroke="#1a1a1a" stroke-width="0.3">ns</text>
<text transform="translate(342.7,69) scale(0.82,1)" font-size="9.2" text-anchor="middle" fill="#000" font-weight="bold">**</text>
<text transform="translate(353,66.6) scale(0.92,1)" font-size="8.6" text-anchor="middle" fill="#1a1a1a" stroke="#1a1a1a" stroke-width="0.3">ns</text>
<text transform="translate(365.6,66.6) scale(0.92,1)" font-size="8.6" text-anchor="middle" fill="#1a1a1a" stroke="#1a1a1a" stroke-width="0.3">ns</text>
<text transform="translate(378.8,66.6) scale(0.92,1)" font-size="8.6" text-anchor="middle" fill="#1a1a1a" stroke="#1a1a1a" stroke-width="0.3">ns</text>
<text transform="translate(391,66.6) scale(0.92,1)" font-size="8.6" text-anchor="middle" fill="#1a1a1a" stroke="#1a1a1a" stroke-width="0.3">ns</text>
<text transform="translate(400,50.7) scale(0.92,1)" font-size="8.6" text-anchor="middle" fill="#1a1a1a" stroke="#1a1a1a" stroke-width="0.3">ns</text>
<text transform="translate(410.8,50.7) scale(0.92,1)" font-size="8.6" text-anchor="middle" fill="#1a1a1a" stroke="#1a1a1a" stroke-width="0.3">ns</text>
<text transform="translate(425.6,66.6) scale(0.92,1)" font-size="8.6" text-anchor="middle" fill="#1a1a1a" stroke="#1a1a1a" stroke-width="0.3">ns</text>
<text transform="translate(435.8,66.6) scale(0.92,1)" font-size="8.6" text-anchor="middle" fill="#1a1a1a" stroke="#1a1a1a" stroke-width="0.3">ns</text>
<text transform="translate(446.3,50.7) scale(0.92,1)" font-size="8.6" text-anchor="middle" fill="#1a1a1a" stroke="#1a1a1a" stroke-width="0.3">ns</text>
<text transform="translate(458.3,50.7) scale(0.92,1)" font-size="8.6" text-anchor="middle" fill="#1a1a1a" stroke="#1a1a1a" stroke-width="0.3">ns</text>
<rect x="466.8" y="23.8" width="6.2" height="6.2" fill="#d6a09b"/>
<text transform="translate(475,29.9) scale(0.9,1)" font-size="8.4" text-anchor="start" fill="#1a1a1a" stroke="#1a1a1a" stroke-width="0.3">Cre<tspan dy="-3.02" font-size="5.21">-</tspan></text>
<rect x="466.8" y="35.9" width="6.2" height="6.2" fill="#a8112f"/>
<text transform="translate(475,42) scale(0.9,1)" font-size="8.4" text-anchor="start" fill="#1a1a1a" stroke="#1a1a1a" stroke-width="0.3">Cre<tspan dy="-3.02" font-size="5.21">+</tspan></text>
<rect x="466.8" y="51.4" width="6.2" height="6.2" fill="#a6aca8"/>
<text transform="translate(475,57.5) scale(0.9,1)" font-size="8.4" text-anchor="start" fill="#1a1a1a" stroke="#1a1a1a" stroke-width="0.3">Cre<tspan dy="-3.02" font-size="5.21">-</tspan></text>
<rect x="466.8" y="63.5" width="6.2" height="6.2" fill="#3f6f59"/>
<text transform="translate(475,69.6) scale(0.9,1)" font-size="8.4" text-anchor="start" fill="#1a1a1a" stroke="#1a1a1a" stroke-width="0.3">Cre<tspan dy="-3.02" font-size="5.21">+</tspan></text>
<rect x="466.8" y="79.4" width="6.2" height="6.2" fill="#cbcbcb"/>
<text transform="translate(475,85.5) scale(0.9,1)" font-size="8.4" text-anchor="start" fill="#1a1a1a" stroke="#1a1a1a" stroke-width="0.3">Cre<tspan dy="-3.02" font-size="5.21">-</tspan></text>
<rect x="466.8" y="91.5" width="6.2" height="6.2" fill="#050505"/>
<text transform="translate(475,97.6) scale(0.9,1)" font-size="8.4" text-anchor="start" fill="#1a1a1a" stroke="#1a1a1a" stroke-width="0.3">Cre<tspan dy="-3.02" font-size="5.21">+</tspan></text>
<rect x="466.8" y="106.7" width="6.2" height="6.2" fill="#a3a9cf"/>
<text transform="translate(475,112.8) scale(0.9,1)" font-size="8.4" text-anchor="start" fill="#1a1a1a" stroke="#1a1a1a" stroke-width="0.3">Cre<tspan dy="-3.02" font-size="5.21">-</tspan></text>
<rect x="466.8" y="118.8" width="6.2" height="6.2" fill="#2f4b8c"/>
<text transform="translate(475,124.9) scale(0.9,1)" font-size="8.4" text-anchor="start" fill="#1a1a1a" stroke="#1a1a1a" stroke-width="0.3">Cre<tspan dy="-3.02" font-size="5.21">+</tspan></text>
<text transform="translate(492.8,35.5) scale(0.87,1)" font-size="8.3" text-anchor="start" fill="#000" font-weight="bold">RBC</text>
<text transform="translate(492.8,63.7) scale(0.88,1)" font-size="8.3" text-anchor="start" fill="#000" font-weight="bold">PLT</text>
<text transform="translate(492.8,91.2) scale(0.87,1)" font-size="8.3" text-anchor="start" fill="#000" font-weight="bold">WBC</text>
<text transform="translate(492.8,118.8) scale(0.86,1)" font-size="8.3" text-anchor="start" fill="#000" font-weight="bold">NEUT</text>
<text transform="translate(6.6,181.7) scale(0.9,1)" font-size="12.1" text-anchor="start" fill="#000" font-weight="bold">C</text>
<text transform="translate(17.5,207.6) scale(1,1)" font-size="7.6" text-anchor="start" fill="#1a1a1a" stroke="#1a1a1a" stroke-width="0.3">wks after</text>
<text transform="translate(17.5,217) scale(1.03,1)" font-size="7.6" text-anchor="start" fill="#1a1a1a" stroke="#1a1a1a" stroke-width="0.3">TAM</text>
<text transform="translate(23.2,268.5) rotate(-90) scale(0.88,1)" font-size="9.4" text-anchor="middle" fill="#1a1a1a" stroke="#1a1a1a" stroke-width="0.3">% of cells</text>
<text transform="translate(93.4,196.3) scale(0.95,1)" font-size="10.3" text-anchor="middle" fill="#000" font-weight="bold">LT-HSC</text>
<line x1="52.5" y1="211.5" x2="76.7" y2="211.5" stroke="#161616" stroke-width="1.1"/>
<text transform="translate(64,208.3) scale(0.97,1)" font-size="7.8" text-anchor="middle" fill="#1a1a1a" stroke="#1a1a1a" stroke-width="0.3">1</text>
<line x1="80.8" y1="211.5" x2="105" y2="211.5" stroke="#161616" stroke-width="1.1"/>
<text transform="translate(92.4,208.3) scale(0.97,1)" font-size="7.8" text-anchor="middle" fill="#1a1a1a" stroke="#1a1a1a" stroke-width="0.3">4</text>
<line x1="110.4" y1="211.5" x2="133.8" y2="211.5" stroke="#161616" stroke-width="1.1"/>
<text transform="translate(120.6,208.3) scale(0.97,1)" font-size="7.8" text-anchor="middle" fill="#1a1a1a" stroke="#1a1a1a" stroke-width="0.3">30</text>
<rect x="52.1" y="227.89" width="8.4" height="2.83" fill="#69a743"/>
<rect x="52.1" y="230.72" width="8.4" height="17.37" fill="#73a9de"/>
<rect x="52.1" y="248.09" width="8.4" height="61.41" fill="#a60f2f"/>
<line x1="56.5" y1="227.41" x2="56.5" y2="227.89" stroke="#111" stroke-width="1.2"/>
<line x1="54.2" y1="227.5" x2="58.8" y2="227.5" stroke="#111" stroke-width="1.2"/>
<line x1="56.5" y1="230.72" x2="56.5" y2="234.76" stroke="#0b0b12" stroke-width="1.2"/>
<line x1="54.2" y1="234.5" x2="58.8" y2="234.5" stroke="#0b0b12" stroke-width="1.2"/>
<line x1="56.5" y1="246.8" x2="56.5" y2="251.32" stroke="#3a0510" stroke-width="1.2"/>
<line x1="54.3" y1="251.5" x2="58.7" y2="251.5" stroke="#3a0510" stroke-width="1.2"/>
<rect x="81.3" y="227.89" width="8.4" height="3.23" fill="#69a743"/>
<rect x="81.3" y="231.12" width="8.4" height="12.12" fill="#73a9de"/>
<rect x="81.3" y="243.24" width="8.4" height="66.26" fill="#a60f2f"/>
<line x1="85.5" y1="227.41" x2="85.5" y2="227.89" stroke="#111" stroke-width="1.2"/>
<line x1="83.2" y1="227.5" x2="87.8" y2="227.5" stroke="#111" stroke-width="1.2"/>
<line x1="85.5" y1="231.12" x2="85.5" y2="235.16" stroke="#0b0b12" stroke-width="1.2"/>
<line x1="83.2" y1="235.5" x2="87.8" y2="235.5" stroke="#0b0b12" stroke-width="1.2"/>
<line x1="85.5" y1="242.44" x2="85.5" y2="245.26" stroke="#3a0510" stroke-width="1.2"/>
<line x1="83.3" y1="245.5" x2="87.7" y2="245.5" stroke="#3a0510" stroke-width="1.2"/>
<rect x="95.7" y="227.89" width="8.4" height="3.23" fill="#69a743"/>
<rect x="95.7" y="231.12" width="8.4" height="21.01" fill="#73a9de"/>
<rect x="95.7" y="252.13" width="8.4" height="57.37" fill="#a60f2f"/>
<line x1="99.5" y1="226.92" x2="99.5" y2="227.89" stroke="#111" stroke-width="1.2"/>
<line x1="97.2" y1="226.5" x2="101.8" y2="226.5" stroke="#111" stroke-width="1.2"/>
<line x1="99.5" y1="231.12" x2="99.5" y2="236.78" stroke="#0b0b12" stroke-width="1.2"/>
<line x1="97.2" y1="236.5" x2="101.8" y2="236.5" stroke="#0b0b12" stroke-width="1.2"/>
<line x1="99.5" y1="250.19" x2="99.5" y2="256.98" stroke="#3a0510" stroke-width="1.2"/>
<line x1="97.3" y1="256.5" x2="101.7" y2="256.5" stroke="#3a0510" stroke-width="1.2"/>
<rect x="110.2" y="227.89" width="8.4" height="3.23" fill="#69a743"/>
<rect x="110.2" y="231.12" width="8.4" height="6.46" fill="#73a9de"/>
<rect x="110.2" y="237.59" width="8.4" height="71.91" fill="#a60f2f"/>
<line x1="114.5" y1="227.41" x2="114.5" y2="227.89" stroke="#111" stroke-width="1.2"/>
<line x1="112.2" y1="227.5" x2="116.8" y2="227.5" stroke="#111" stroke-width="1.2"/>
<line x1="114.5" y1="231.12" x2="114.5" y2="233.55" stroke="#0b0b12" stroke-width="1.2"/>
<line x1="112.2" y1="233.5" x2="116.8" y2="233.5" stroke="#0b0b12" stroke-width="1.2"/>
<line x1="114.5" y1="237.1" x2="114.5" y2="238.8" stroke="#3a0510" stroke-width="1.2"/>
<line x1="112.3" y1="238.5" x2="116.7" y2="238.5" stroke="#3a0510" stroke-width="1.2"/>
<rect x="124.6" y="227.89" width="8.4" height="3.23" fill="#69a743"/>
<rect x="124.6" y="231.12" width="8.4" height="12.12" fill="#73a9de"/>
<rect x="124.6" y="243.24" width="8.4" height="66.26" fill="#a60f2f"/>
<line x1="128.5" y1="226.28" x2="128.5" y2="227.89" stroke="#111" stroke-width="1.2"/>
<line x1="126.2" y1="226.5" x2="130.8" y2="226.5" stroke="#111" stroke-width="1.2"/>
<line x1="128.5" y1="231.12" x2="128.5" y2="236.78" stroke="#0b0b12" stroke-width="1.2"/>
<line x1="126.2" y1="236.5" x2="130.8" y2="236.5" stroke="#0b0b12" stroke-width="1.2"/>
<line x1="128.5" y1="240.98" x2="128.5" y2="248.9" stroke="#3a0510" stroke-width="1.2"/>
<line x1="126.3" y1="248.5" x2="130.7" y2="248.5" stroke="#3a0510" stroke-width="1.2"/>
<line x1="49.5" y1="211.6" x2="49.5" y2="310.05" stroke="#161616" stroke-width="1.1"/>
<line x1="49.25" y1="309.5" x2="135.8" y2="309.5" stroke="#161616" stroke-width="1.1"/>
<line x1="46.6" y1="228.5" x2="49.8" y2="228.5" stroke="#161616" stroke-width="1.1"/>
<text transform="translate(44,231.7) scale(0.98,1)" font-size="8.4" text-anchor="end" fill="#1a1a1a" stroke="#1a1a1a" stroke-width="0.3">100</text>
<line x1="46.6" y1="269.5" x2="49.8" y2="269.5" stroke="#161616" stroke-width="1.1"/>
<text transform="translate(44,272.1) scale(0.98,1)" font-size="8.4" text-anchor="end" fill="#1a1a1a" stroke="#1a1a1a" stroke-width="0.3">50</text>
<line x1="46.6" y1="309.5" x2="49.8" y2="309.5" stroke="#161616" stroke-width="1.1"/>
<text transform="translate(44,312.5) scale(0.98,1)" font-size="8.4" text-anchor="end" fill="#1a1a1a" stroke="#1a1a1a" stroke-width="0.3">0</text>
<text transform="translate(58.9,316.1) rotate(-45) scale(0.9,1)" font-size="8.4" text-anchor="end" fill="#1a1a1a" stroke="#1a1a1a" stroke-width="0.3">Cre<tspan dy="-3.02" font-size="5.88">-</tspan></text>
<text transform="translate(73.2,316.1) rotate(-45) scale(0.9,1)" font-size="8.4" text-anchor="end" fill="#1a1a1a" stroke="#1a1a1a" stroke-width="0.3">Cre<tspan dy="-3.02" font-size="5.88">+</tspan></text>
<text transform="translate(88.1,316.1) rotate(-45) scale(0.9,1)" font-size="8.4" text-anchor="end" fill="#1a1a1a" stroke="#1a1a1a" stroke-width="0.3">Cre<tspan dy="-3.02" font-size="5.88">-</tspan></text>
<text transform="translate(102.5,316.1) rotate(-45) scale(0.9,1)" font-size="8.4" text-anchor="end" fill="#1a1a1a" stroke="#1a1a1a" stroke-width="0.3">Cre<tspan dy="-3.02" font-size="5.88">+</tspan></text>
<text transform="translate(117,316.1) rotate(-45) scale(0.9,1)" font-size="8.4" text-anchor="end" fill="#1a1a1a" stroke="#1a1a1a" stroke-width="0.3">Cre<tspan dy="-3.02" font-size="5.88">-</tspan></text>
<text transform="translate(131.4,316.1) rotate(-45) scale(0.9,1)" font-size="8.4" text-anchor="end" fill="#1a1a1a" stroke="#1a1a1a" stroke-width="0.3">Cre<tspan dy="-3.02" font-size="5.88">+</tspan></text>
<text transform="translate(69.5,266.3) scale(0.95,1)" font-size="7.8" text-anchor="middle" fill="#1a1a1a" stroke="#1a1a1a" stroke-width="0.3">nd</text>
<text transform="translate(208,196.3) scale(0.95,1)" font-size="10.3" text-anchor="middle" fill="#000" font-weight="bold">ST-HSC</text>
<line x1="165" y1="211.5" x2="188.7" y2="211.5" stroke="#161616" stroke-width="1.1"/>
<text transform="translate(178,208.3) scale(0.97,1)" font-size="7.8" text-anchor="middle" fill="#1a1a1a" stroke="#1a1a1a" stroke-width="0.3">1</text>
<line x1="193.3" y1="211.5" x2="217.5" y2="211.5" stroke="#161616" stroke-width="1.1"/>
<text transform="translate(205.4,208.3) scale(0.97,1)" font-size="7.8" text-anchor="middle" fill="#1a1a1a" stroke="#1a1a1a" stroke-width="0.3">4</text>
<line x1="222.4" y1="211.5" x2="246.3" y2="211.5" stroke="#161616" stroke-width="1.1"/>
<text transform="translate(234.5,208.3) scale(0.97,1)" font-size="7.8" text-anchor="middle" fill="#1a1a1a" stroke="#1a1a1a" stroke-width="0.3">30</text>
<rect x="165.4" y="227.89" width="8.4" height="16.56" fill="#69a743"/>
<rect x="165.4" y="244.46" width="8.4" height="32.16" fill="#73a9de"/>
<rect x="165.4" y="276.61" width="8.4" height="32.89" fill="#a60f2f"/>
<line x1="169.5" y1="224.66" x2="169.5" y2="227.89" stroke="#111" stroke-width="1.2"/>
<line x1="167.2" y1="224.5" x2="171.8" y2="224.5" stroke="#111" stroke-width="1.2"/>
<line x1="169.5" y1="244.46" x2="169.5" y2="249.3" stroke="#0b0b12" stroke-width="1.2"/>
<line x1="167.2" y1="249.5" x2="171.8" y2="249.5" stroke="#0b0b12" stroke-width="1.2"/>
<line x1="169.5" y1="275.64" x2="169.5" y2="279.04" stroke="#3a0510" stroke-width="1.2"/>
<line x1="167.3" y1="279.5" x2="171.7" y2="279.5" stroke="#3a0510" stroke-width="1.2"/>
<rect x="179.7" y="227.89" width="8.4" height="28.52" fill="#69a743"/>
<rect x="179.7" y="256.41" width="8.4" height="50.66" fill="#73a9de"/>
<rect x="179.7" y="307.08" width="8.4" height="2.42" fill="#a60f2f"/>
<line x1="183.5" y1="222.24" x2="183.5" y2="227.89" stroke="#111" stroke-width="1.2"/>
<line x1="181.2" y1="222.5" x2="185.8" y2="222.5" stroke="#111" stroke-width="1.2"/>
<line x1="183.5" y1="256.41" x2="183.5" y2="260.45" stroke="#0b0b12" stroke-width="1.2"/>
<line x1="181.2" y1="260.5" x2="185.8" y2="260.5" stroke="#0b0b12" stroke-width="1.2"/>
<line x1="183.5" y1="306.59" x2="183.5" y2="308.29" stroke="#3a0510" stroke-width="1.2"/>
<line x1="181.3" y1="308.5" x2="185.7" y2="308.5" stroke="#3a0510" stroke-width="1.2"/>
<rect x="194.2" y="227.89" width="8.4" height="21.82" fill="#69a743"/>
<rect x="194.2" y="249.71" width="8.4" height="24.24" fill="#73a9de"/>
<rect x="194.2" y="273.95" width="8.4" height="35.55" fill="#a60f2f"/>
<line x1="198.5" y1="224.66" x2="198.5" y2="227.89" stroke="#111" stroke-width="1.2"/>
<line x1="196.2" y1="224.5" x2="200.8" y2="224.5" stroke="#111" stroke-width="1.2"/>
<line x1="198.5" y1="249.71" x2="198.5" y2="254.56" stroke="#0b0b12" stroke-width="1.2"/>
<line x1="196.2" y1="254.5" x2="200.8" y2="254.5" stroke="#0b0b12" stroke-width="1.2"/>
<line x1="198.5" y1="272.01" x2="198.5" y2="278.8" stroke="#3a0510" stroke-width="1.2"/>
<line x1="196.3" y1="278.5" x2="200.7" y2="278.5" stroke="#3a0510" stroke-width="1.2"/>
<rect x="208.6" y="227.89" width="8.4" height="18.58" fill="#69a743"/>
<rect x="208.6" y="246.48" width="8.4" height="32.89" fill="#73a9de"/>
<rect x="208.6" y="279.36" width="8.4" height="30.14" fill="#a60f2f"/>
<line x1="212.5" y1="223.85" x2="212.5" y2="227.89" stroke="#111" stroke-width="1.2"/>
<line x1="210.2" y1="223.5" x2="214.8" y2="223.5" stroke="#111" stroke-width="1.2"/>
<line x1="212.5" y1="246.48" x2="212.5" y2="252.13" stroke="#0b0b12" stroke-width="1.2"/>
<line x1="210.2" y1="252.5" x2="214.8" y2="252.5" stroke="#0b0b12" stroke-width="1.2"/>
<line x1="212.5" y1="278.72" x2="212.5" y2="280.98" stroke="#3a0510" stroke-width="1.2"/>
<line x1="210.3" y1="280.5" x2="214.7" y2="280.5" stroke="#3a0510" stroke-width="1.2"/>
<rect x="223" y="227.89" width="8.4" height="15.59" fill="#69a743"/>
<rect x="223" y="243.49" width="8.4" height="12.69" fill="#73a9de"/>
<rect x="223" y="256.17" width="8.4" height="53.33" fill="#a60f2f"/>
<line x1="227.5" y1="222.24" x2="227.5" y2="227.89" stroke="#111" stroke-width="1.2"/>
<line x1="225.2" y1="222.5" x2="229.8" y2="222.5" stroke="#111" stroke-width="1.2"/>
<line x1="227.5" y1="243.49" x2="227.5" y2="247.53" stroke="#0b0b12" stroke-width="1.2"/>
<line x1="225.2" y1="247.5" x2="229.8" y2="247.5" stroke="#0b0b12" stroke-width="1.2"/>
<line x1="227.5" y1="252.94" x2="227.5" y2="264.25" stroke="#3a0510" stroke-width="1.2"/>
<line x1="225.3" y1="264.5" x2="229.7" y2="264.5" stroke="#3a0510" stroke-width="1.2"/>
<rect x="237.3" y="227.89" width="8.4" height="18.58" fill="#69a743"/>
<rect x="237.3" y="246.48" width="8.4" height="18.02" fill="#73a9de"/>
<rect x="237.3" y="264.49" width="8.4" height="45.01" fill="#a60f2f"/>
<line x1="241.5" y1="221.43" x2="241.5" y2="227.89" stroke="#111" stroke-width="1.2"/>
<line x1="239.2" y1="221.5" x2="243.8" y2="221.5" stroke="#111" stroke-width="1.2"/>
<line x1="241.5" y1="246.48" x2="241.5" y2="253.75" stroke="#0b0b12" stroke-width="1.2"/>
<line x1="239.2" y1="253.5" x2="243.8" y2="253.5" stroke="#0b0b12" stroke-width="1.2"/>
<line x1="241.5" y1="259.65" x2="241.5" y2="276.61" stroke="#3a0510" stroke-width="1.2"/>
<line x1="239.3" y1="276.5" x2="243.7" y2="276.5" stroke="#3a0510" stroke-width="1.2"/>
<line x1="162.5" y1="211.6" x2="162.5" y2="310.05" stroke="#161616" stroke-width="1.1"/>
<line x1="161.95" y1="309.5" x2="248.5" y2="309.5" stroke="#161616" stroke-width="1.1"/>
<line x1="159.3" y1="228.5" x2="162.5" y2="228.5" stroke="#161616" stroke-width="1.1"/>
<text transform="translate(156.7,231.7) scale(0.98,1)" font-size="8.4" text-anchor="end" fill="#1a1a1a" stroke="#1a1a1a" stroke-width="0.3">100</text>
<line x1="159.3" y1="269.5" x2="162.5" y2="269.5" stroke="#161616" stroke-width="1.1"/>
<text transform="translate(156.7,272.1) scale(0.98,1)" font-size="8.4" text-anchor="end" fill="#1a1a1a" stroke="#1a1a1a" stroke-width="0.3">50</text>
<line x1="159.3" y1="309.5" x2="162.5" y2="309.5" stroke="#161616" stroke-width="1.1"/>
<text transform="translate(156.7,312.5) scale(0.98,1)" font-size="8.4" text-anchor="end" fill="#1a1a1a" stroke="#1a1a1a" stroke-width="0.3">0</text>
<text transform="translate(172.2,316.1) rotate(-45) scale(0.9,1)" font-size="8.4" text-anchor="end" fill="#1a1a1a" stroke="#1a1a1a" stroke-width="0.3">Cre<tspan dy="-3.02" font-size="5.88">-</tspan></text>
<text transform="translate(186.5,316.1) rotate(-45) scale(0.9,1)" font-size="8.4" text-anchor="end" fill="#1a1a1a" stroke="#1a1a1a" stroke-width="0.3">Cre<tspan dy="-3.02" font-size="5.88">+</tspan></text>
<text transform="translate(201,316.1) rotate(-45) scale(0.9,1)" font-size="8.4" text-anchor="end" fill="#1a1a1a" stroke="#1a1a1a" stroke-width="0.3">Cre<tspan dy="-3.02" font-size="5.88">-</tspan></text>
<text transform="translate(215.4,316.1) rotate(-45) scale(0.9,1)" font-size="8.4" text-anchor="end" fill="#1a1a1a" stroke="#1a1a1a" stroke-width="0.3">Cre<tspan dy="-3.02" font-size="5.88">+</tspan></text>
<text transform="translate(229.8,316.1) rotate(-45) scale(0.9,1)" font-size="8.4" text-anchor="end" fill="#1a1a1a" stroke="#1a1a1a" stroke-width="0.3">Cre<tspan dy="-3.02" font-size="5.88">-</tspan></text>
<text transform="translate(244.1,316.1) rotate(-45) scale(0.9,1)" font-size="8.4" text-anchor="end" fill="#1a1a1a" stroke="#1a1a1a" stroke-width="0.3">Cre<tspan dy="-3.02" font-size="5.88">+</tspan></text>
<text transform="translate(176.7,238.1) scale(0.8,1)" font-size="10" text-anchor="middle" fill="#000" font-weight="bold">*</text>
<line x1="171" y1="236.5" x2="184" y2="236.5" stroke="#111" stroke-width="1.1"/>
<text transform="translate(176.7,273.5) scale(0.8,1)" font-size="10" text-anchor="middle" fill="#000" font-weight="bold">***</text>
<line x1="171" y1="271.5" x2="184" y2="271.5" stroke="#111" stroke-width="1.1"/>
<text transform="translate(176.7,308.2) scale(0.8,1)" font-size="10" text-anchor="middle" fill="#000" font-weight="bold">***</text>
<line x1="171" y1="306.5" x2="184" y2="306.5" stroke="#111" stroke-width="1.1"/>
<text transform="translate(323.2,196.3) scale(0.95,1)" font-size="10.3" text-anchor="middle" fill="#000" font-weight="bold">MPP</text>
<line x1="278.3" y1="211.5" x2="301.7" y2="211.5" stroke="#161616" stroke-width="1.1"/>
<text transform="translate(291.2,208.3) scale(0.97,1)" font-size="7.8" text-anchor="middle" fill="#1a1a1a" stroke="#1a1a1a" stroke-width="0.3">1</text>
<line x1="307" y1="211.5" x2="330.8" y2="211.5" stroke="#161616" stroke-width="1.1"/>
<text transform="translate(319.2,208.3) scale(0.97,1)" font-size="7.8" text-anchor="middle" fill="#1a1a1a" stroke="#1a1a1a" stroke-width="0.3">4</text>
<line x1="336.2" y1="211.5" x2="359.9" y2="211.5" stroke="#161616" stroke-width="1.1"/>
<text transform="translate(348.3,208.3) scale(0.97,1)" font-size="7.8" text-anchor="middle" fill="#1a1a1a" stroke="#1a1a1a" stroke-width="0.3">30</text>
<rect x="278.9" y="227.89" width="8.4" height="13.74" fill="#69a743"/>
<rect x="278.9" y="241.63" width="8.4" height="35.55" fill="#73a9de"/>
<rect x="278.9" y="277.18" width="8.4" height="32.32" fill="#a60f2f"/>
<line x1="283.5" y1="226.28" x2="283.5" y2="227.89" stroke="#111" stroke-width="1.2"/>
<line x1="281.2" y1="226.5" x2="285.8" y2="226.5" stroke="#111" stroke-width="1.2"/>
<line x1="283.5" y1="241.63" x2="283.5" y2="247.28" stroke="#0b0b12" stroke-width="1.2"/>
<line x1="281.2" y1="247.5" x2="285.8" y2="247.5" stroke="#0b0b12" stroke-width="1.2"/>
<line x1="283.5" y1="274.59" x2="283.5" y2="283.64" stroke="#3a0510" stroke-width="1.2"/>
<line x1="281.3" y1="283.5" x2="285.7" y2="283.5" stroke="#3a0510" stroke-width="1.2"/>
<rect x="292.9" y="227.89" width="8.4" height="24.48" fill="#69a743"/>
<rect x="292.9" y="252.37" width="8.4" height="53.89" fill="#73a9de"/>
<rect x="292.9" y="306.27" width="8.4" height="3.23" fill="#a60f2f"/>
<line x1="297.5" y1="219.41" x2="297.5" y2="227.89" stroke="#111" stroke-width="1.2"/>
<line x1="295.2" y1="219.5" x2="299.8" y2="219.5" stroke="#111" stroke-width="1.2"/>
<line x1="297.5" y1="252.37" x2="297.5" y2="258.84" stroke="#0b0b12" stroke-width="1.2"/>
<line x1="295.2" y1="258.5" x2="299.8" y2="258.5" stroke="#0b0b12" stroke-width="1.2"/>
<line x1="297.5" y1="305.78" x2="297.5" y2="307.48" stroke="#3a0510" stroke-width="1.2"/>
<line x1="295.3" y1="307.5" x2="299.7" y2="307.5" stroke="#3a0510" stroke-width="1.2"/>
<rect x="307.8" y="227.89" width="8.4" height="12.93" fill="#69a743"/>
<rect x="307.8" y="240.82" width="8.4" height="28.52" fill="#73a9de"/>
<rect x="307.8" y="269.34" width="8.4" height="40.16" fill="#a60f2f"/>
<line x1="312.5" y1="226.28" x2="312.5" y2="227.89" stroke="#111" stroke-width="1.2"/>
<line x1="310.2" y1="226.5" x2="314.8" y2="226.5" stroke="#111" stroke-width="1.2"/>
<line x1="312.5" y1="240.82" x2="312.5" y2="244.86" stroke="#0b0b12" stroke-width="1.2"/>
<line x1="310.2" y1="244.5" x2="314.8" y2="244.5" stroke="#0b0b12" stroke-width="1.2"/>
<line x1="312.5" y1="267.08" x2="312.5" y2="275" stroke="#3a0510" stroke-width="1.2"/>
<line x1="310.3" y1="274.5" x2="314.7" y2="274.5" stroke="#3a0510" stroke-width="1.2"/>
<rect x="322" y="227.89" width="8.4" height="13.74" fill="#69a743"/>
<rect x="322" y="241.63" width="8.4" height="36.93" fill="#73a9de"/>
<rect x="322" y="278.55" width="8.4" height="30.95" fill="#a60f2f"/>
<line x1="326.5" y1="226.68" x2="326.5" y2="227.89" stroke="#111" stroke-width="1.2"/>
<line x1="324.2" y1="226.5" x2="328.8" y2="226.5" stroke="#111" stroke-width="1.2"/>
<line x1="326.5" y1="241.63" x2="326.5" y2="245.67" stroke="#0b0b12" stroke-width="1.2"/>
<line x1="324.2" y1="245.5" x2="328.8" y2="245.5" stroke="#0b0b12" stroke-width="1.2"/>
<line x1="326.5" y1="277.91" x2="326.5" y2="280.17" stroke="#3a0510" stroke-width="1.2"/>
<line x1="324.3" y1="280.5" x2="328.7" y2="280.5" stroke="#3a0510" stroke-width="1.2"/>
<rect x="336.5" y="227.89" width="8.4" height="15.59" fill="#69a743"/>
<rect x="336.5" y="243.49" width="8.4" height="22.38" fill="#73a9de"/>
<rect x="336.5" y="265.87" width="8.4" height="43.63" fill="#a60f2f"/>
<line x1="340.5" y1="225.87" x2="340.5" y2="227.89" stroke="#111" stroke-width="1.2"/>
<line x1="338.2" y1="225.5" x2="342.8" y2="225.5" stroke="#111" stroke-width="1.2"/>
<line x1="340.5" y1="243.49" x2="340.5" y2="249.95" stroke="#0b0b12" stroke-width="1.2"/>
<line x1="338.2" y1="249.5" x2="342.8" y2="249.5" stroke="#0b0b12" stroke-width="1.2"/>
<line x1="340.5" y1="263.28" x2="340.5" y2="272.33" stroke="#3a0510" stroke-width="1.2"/>
<line x1="338.3" y1="272.5" x2="342.7" y2="272.5" stroke="#3a0510" stroke-width="1.2"/>
<rect x="350.8" y="227.89" width="8.4" height="19.96" fill="#69a743"/>
<rect x="350.8" y="247.85" width="8.4" height="26.91" fill="#73a9de"/>
<rect x="350.8" y="274.76" width="8.4" height="34.74" fill="#a60f2f"/>
<line x1="355.5" y1="225.06" x2="355.5" y2="227.89" stroke="#111" stroke-width="1.2"/>
<line x1="353.2" y1="225.5" x2="357.8" y2="225.5" stroke="#111" stroke-width="1.2"/>
<line x1="355.5" y1="247.85" x2="355.5" y2="256.74" stroke="#0b0b12" stroke-width="1.2"/>
<line x1="353.2" y1="256.5" x2="357.8" y2="256.5" stroke="#0b0b12" stroke-width="1.2"/>
<line x1="355.5" y1="270.23" x2="355.5" y2="286.07" stroke="#3a0510" stroke-width="1.2"/>
<line x1="353.3" y1="286.5" x2="357.7" y2="286.5" stroke="#3a0510" stroke-width="1.2"/>
<line x1="276.5" y1="211.6" x2="276.5" y2="310.05" stroke="#161616" stroke-width="1.1"/>
<line x1="275.95" y1="309.5" x2="362" y2="309.5" stroke="#161616" stroke-width="1.1"/>
<line x1="273.3" y1="228.5" x2="276.5" y2="228.5" stroke="#161616" stroke-width="1.1"/>
<text transform="translate(270.7,231.7) scale(0.98,1)" font-size="8.4" text-anchor="end" fill="#1a1a1a" stroke="#1a1a1a" stroke-width="0.3">100</text>
<line x1="273.3" y1="269.5" x2="276.5" y2="269.5" stroke="#161616" stroke-width="1.1"/>
<text transform="translate(270.7,272.1) scale(0.98,1)" font-size="8.4" text-anchor="end" fill="#1a1a1a" stroke="#1a1a1a" stroke-width="0.3">50</text>
<line x1="273.3" y1="309.5" x2="276.5" y2="309.5" stroke="#161616" stroke-width="1.1"/>
<text transform="translate(270.7,312.5) scale(0.98,1)" font-size="8.4" text-anchor="end" fill="#1a1a1a" stroke="#1a1a1a" stroke-width="0.3">0</text>
<text transform="translate(285.7,316.1) rotate(-45) scale(0.9,1)" font-size="8.4" text-anchor="end" fill="#1a1a1a" stroke="#1a1a1a" stroke-width="0.3">Cre<tspan dy="-3.02" font-size="5.88">-</tspan></text>
<text transform="translate(299.7,316.1) rotate(-45) scale(0.9,1)" font-size="8.4" text-anchor="end" fill="#1a1a1a" stroke="#1a1a1a" stroke-width="0.3">Cre<tspan dy="-3.02" font-size="5.88">+</tspan></text>
<text transform="translate(314.6,316.1) rotate(-45) scale(0.9,1)" font-size="8.4" text-anchor="end" fill="#1a1a1a" stroke="#1a1a1a" stroke-width="0.3">Cre<tspan dy="-3.02" font-size="5.88">-</tspan></text>
<text transform="translate(328.8,316.1) rotate(-45) scale(0.9,1)" font-size="8.4" text-anchor="end" fill="#1a1a1a" stroke="#1a1a1a" stroke-width="0.3">Cre<tspan dy="-3.02" font-size="5.88">+</tspan></text>
<text transform="translate(343.3,316.1) rotate(-45) scale(0.9,1)" font-size="8.4" text-anchor="end" fill="#1a1a1a" stroke="#1a1a1a" stroke-width="0.3">Cre<tspan dy="-3.02" font-size="5.88">-</tspan></text>
<text transform="translate(357.6,316.1) rotate(-45) scale(0.9,1)" font-size="8.4" text-anchor="end" fill="#1a1a1a" stroke="#1a1a1a" stroke-width="0.3">Cre<tspan dy="-3.02" font-size="5.88">+</tspan></text>
<text transform="translate(290.4,238.1) scale(0.8,1)" font-size="10" text-anchor="middle" fill="#000" font-weight="bold">*</text>
<line x1="284.2" y1="236.5" x2="297.1" y2="236.5" stroke="#111" stroke-width="1.1"/>
<text transform="translate(290.4,273.5) scale(0.8,1)" font-size="10" text-anchor="middle" fill="#000" font-weight="bold">**</text>
<line x1="284.2" y1="271.5" x2="297.1" y2="271.5" stroke="#111" stroke-width="1.1"/>
<text transform="translate(290.4,308.2) scale(0.8,1)" font-size="10" text-anchor="middle" fill="#000" font-weight="bold">***</text>
<line x1="284.2" y1="306.5" x2="297.1" y2="306.5" stroke="#111" stroke-width="1.1"/>
<text transform="translate(433.9,196.3) scale(0.95,1)" font-size="10.3" text-anchor="middle" fill="#000" font-weight="bold">LS<tspan dy="-3.71" font-size="6.39">-</tspan><tspan dy="3.71">K</tspan></text>
<line x1="391.3" y1="211.5" x2="415.5" y2="211.5" stroke="#161616" stroke-width="1.1"/>
<text transform="translate(404.8,208.3) scale(0.97,1)" font-size="7.8" text-anchor="middle" fill="#1a1a1a" stroke="#1a1a1a" stroke-width="0.3">1</text>
<line x1="420.4" y1="211.5" x2="444.1" y2="211.5" stroke="#161616" stroke-width="1.1"/>
<text transform="translate(432.5,208.3) scale(0.97,1)" font-size="7.8" text-anchor="middle" fill="#1a1a1a" stroke="#1a1a1a" stroke-width="0.3">4</text>
<line x1="449.5" y1="211.5" x2="472.9" y2="211.5" stroke="#161616" stroke-width="1.1"/>
<text transform="translate(460.8,208.3) scale(0.97,1)" font-size="7.8" text-anchor="middle" fill="#1a1a1a" stroke="#1a1a1a" stroke-width="0.3">30</text>
<rect x="392" y="226.92" width="8.4" height="32.08" fill="#69a743"/>
<rect x="392" y="259" width="8.4" height="45.65" fill="#73a9de"/>
<rect x="392" y="304.65" width="8.4" height="4.85" fill="#a60f2f"/>
<line x1="396.5" y1="226.44" x2="396.5" y2="226.92" stroke="#111" stroke-width="1.2"/>
<line x1="394.2" y1="226.5" x2="398.8" y2="226.5" stroke="#111" stroke-width="1.2"/>
<line x1="396.5" y1="259" x2="396.5" y2="260.62" stroke="#0b0b12" stroke-width="1.2"/>
<line x1="394.2" y1="260.5" x2="398.8" y2="260.5" stroke="#0b0b12" stroke-width="1.2"/>
<line x1="396.5" y1="304.33" x2="396.5" y2="305.46" stroke="#3a0510" stroke-width="1.2"/>
<line x1="394.3" y1="305.5" x2="398.7" y2="305.5" stroke="#3a0510" stroke-width="1.2"/>
<rect x="406.2" y="226.92" width="8.4" height="37.73" fill="#69a743"/>
<rect x="406.2" y="264.66" width="8.4" height="44.44" fill="#73a9de"/>
<rect x="406.2" y="309.1" width="8.4" height="0.4" fill="#a60f2f"/>
<line x1="410.5" y1="224.18" x2="410.5" y2="226.92" stroke="#111" stroke-width="1.2"/>
<line x1="408.2" y1="224.5" x2="412.8" y2="224.5" stroke="#111" stroke-width="1.2"/>
<line x1="410.5" y1="264.66" x2="410.5" y2="267.08" stroke="#0b0b12" stroke-width="1.2"/>
<line x1="408.2" y1="267.5" x2="412.8" y2="267.5" stroke="#0b0b12" stroke-width="1.2"/>
<rect x="420.9" y="226.92" width="8.4" height="23.59" fill="#69a743"/>
<rect x="420.9" y="250.52" width="8.4" height="44.44" fill="#73a9de"/>
<rect x="420.9" y="294.96" width="8.4" height="14.54" fill="#a60f2f"/>
<line x1="425.5" y1="225.14" x2="425.5" y2="226.92" stroke="#111" stroke-width="1.2"/>
<line x1="423.2" y1="225.5" x2="427.8" y2="225.5" stroke="#111" stroke-width="1.2"/>
<line x1="425.5" y1="250.52" x2="425.5" y2="253.75" stroke="#0b0b12" stroke-width="1.2"/>
<line x1="423.2" y1="253.5" x2="427.8" y2="253.5" stroke="#0b0b12" stroke-width="1.2"/>
<line x1="425.5" y1="293.34" x2="425.5" y2="299" stroke="#3a0510" stroke-width="1.2"/>
<line x1="423.3" y1="298.5" x2="427.7" y2="298.5" stroke="#3a0510" stroke-width="1.2"/>
<rect x="435.3" y="226.92" width="8.4" height="24.4" fill="#69a743"/>
<rect x="435.3" y="251.32" width="8.4" height="46.3" fill="#73a9de"/>
<rect x="435.3" y="297.62" width="8.4" height="11.88" fill="#a60f2f"/>
<line x1="439.5" y1="225.14" x2="439.5" y2="226.92" stroke="#111" stroke-width="1.2"/>
<line x1="437.2" y1="225.5" x2="441.8" y2="225.5" stroke="#111" stroke-width="1.2"/>
<line x1="439.5" y1="251.32" x2="439.5" y2="255.36" stroke="#0b0b12" stroke-width="1.2"/>
<line x1="437.2" y1="255.5" x2="441.8" y2="255.5" stroke="#0b0b12" stroke-width="1.2"/>
<line x1="439.5" y1="296.33" x2="439.5" y2="300.85" stroke="#3a0510" stroke-width="1.2"/>
<line x1="437.3" y1="300.5" x2="441.7" y2="300.5" stroke="#3a0510" stroke-width="1.2"/>
<rect x="449.8" y="226.92" width="8.4" height="29.49" fill="#69a743"/>
<rect x="449.8" y="256.41" width="8.4" height="33.69" fill="#73a9de"/>
<rect x="449.8" y="290.11" width="8.4" height="19.39" fill="#a60f2f"/>
<line x1="454.5" y1="226.44" x2="454.5" y2="226.92" stroke="#111" stroke-width="1.2"/>
<line x1="452.2" y1="226.5" x2="456.8" y2="226.5" stroke="#111" stroke-width="1.2"/>
<line x1="454.5" y1="256.41" x2="454.5" y2="262.07" stroke="#0b0b12" stroke-width="1.2"/>
<line x1="452.2" y1="262.5" x2="456.8" y2="262.5" stroke="#0b0b12" stroke-width="1.2"/>
<line x1="454.5" y1="288.17" x2="454.5" y2="294.96" stroke="#3a0510" stroke-width="1.2"/>
<line x1="452.3" y1="294.5" x2="456.7" y2="294.5" stroke="#3a0510" stroke-width="1.2"/>
<rect x="464.1" y="226.92" width="8.4" height="30.87" fill="#69a743"/>
<rect x="464.1" y="257.79" width="8.4" height="36.36" fill="#73a9de"/>
<rect x="464.1" y="294.15" width="8.4" height="15.35" fill="#a60f2f"/>
<line x1="468.5" y1="226.11" x2="468.5" y2="226.92" stroke="#111" stroke-width="1.2"/>
<line x1="466.2" y1="226.5" x2="470.8" y2="226.5" stroke="#111" stroke-width="1.2"/>
<line x1="468.5" y1="257.79" x2="468.5" y2="263.44" stroke="#0b0b12" stroke-width="1.2"/>
<line x1="466.2" y1="263.5" x2="470.8" y2="263.5" stroke="#0b0b12" stroke-width="1.2"/>
<line x1="468.5" y1="291.56" x2="468.5" y2="300.61" stroke="#3a0510" stroke-width="1.2"/>
<line x1="466.3" y1="300.5" x2="470.7" y2="300.5" stroke="#3a0510" stroke-width="1.2"/>
<line x1="388.5" y1="211.6" x2="388.5" y2="310.05" stroke="#161616" stroke-width="1.1"/>
<line x1="387.95" y1="309.5" x2="475.3" y2="309.5" stroke="#161616" stroke-width="1.1"/>
<line x1="385.3" y1="228.5" x2="388.5" y2="228.5" stroke="#161616" stroke-width="1.1"/>
<text transform="translate(382.7,231.7) scale(0.98,1)" font-size="8.4" text-anchor="end" fill="#1a1a1a" stroke="#1a1a1a" stroke-width="0.3">100</text>
<line x1="385.3" y1="269.5" x2="388.5" y2="269.5" stroke="#161616" stroke-width="1.1"/>
<text transform="translate(382.7,272.1) scale(0.98,1)" font-size="8.4" text-anchor="end" fill="#1a1a1a" stroke="#1a1a1a" stroke-width="0.3">50</text>
<line x1="385.3" y1="309.5" x2="388.5" y2="309.5" stroke="#161616" stroke-width="1.1"/>
<text transform="translate(382.7,312.5) scale(0.98,1)" font-size="8.4" text-anchor="end" fill="#1a1a1a" stroke="#1a1a1a" stroke-width="0.3">0</text>
<text transform="translate(398.8,316.1) rotate(-45) scale(0.9,1)" font-size="8.4" text-anchor="end" fill="#1a1a1a" stroke="#1a1a1a" stroke-width="0.3">Cre<tspan dy="-3.02" font-size="5.88">-</tspan></text>
<text transform="translate(413,316.1) rotate(-45) scale(0.9,1)" font-size="8.4" text-anchor="end" fill="#1a1a1a" stroke="#1a1a1a" stroke-width="0.3">Cre<tspan dy="-3.02" font-size="5.88">+</tspan></text>
<text transform="translate(427.7,316.1) rotate(-45) scale(0.9,1)" font-size="8.4" text-anchor="end" fill="#1a1a1a" stroke="#1a1a1a" stroke-width="0.3">Cre<tspan dy="-3.02" font-size="5.88">-</tspan></text>
<text transform="translate(442.1,316.1) rotate(-45) scale(0.9,1)" font-size="8.4" text-anchor="end" fill="#1a1a1a" stroke="#1a1a1a" stroke-width="0.3">Cre<tspan dy="-3.02" font-size="5.88">+</tspan></text>
<text transform="translate(456.6,316.1) rotate(-45) scale(0.9,1)" font-size="8.4" text-anchor="end" fill="#1a1a1a" stroke="#1a1a1a" stroke-width="0.3">Cre<tspan dy="-3.02" font-size="5.88">-</tspan></text>
<text transform="translate(470.9,316.1) rotate(-45) scale(0.9,1)" font-size="8.4" text-anchor="end" fill="#1a1a1a" stroke="#1a1a1a" stroke-width="0.3">Cre<tspan dy="-3.02" font-size="5.88">+</tspan></text>
<text transform="translate(403.6,310.5) scale(0.8,1)" font-size="10" text-anchor="middle" fill="#000" font-weight="bold">**</text>
<rect x="481.3" y="202.4" width="6.2" height="6.2" fill="#a60f2f"/>
<text transform="translate(490.4,208.6) scale(0.92,1)" font-size="8.5" text-anchor="start" fill="#1a1a1a" stroke="#1a1a1a" stroke-width="0.3">G<tspan dy="1.53" font-size="5.27">0</tspan></text>
<rect x="481.3" y="215.9" width="6.2" height="6.2" fill="#73a9de"/>
<text transform="translate(490.4,222.1) scale(0.92,1)" font-size="8.5" text-anchor="start" fill="#1a1a1a" stroke="#1a1a1a" stroke-width="0.3">G<tspan dy="1.53" font-size="5.27">1</tspan></text>
<rect x="481.3" y="230.2" width="6.2" height="6.2" fill="#69a743"/>
<text transform="translate(490.4,236.4) scale(0.92,1)" font-size="8.5" text-anchor="start" fill="#1a1a1a" stroke="#1a1a1a" stroke-width="0.3">SG<tspan dy="1.53" font-size="5.27">2</tspan><tspan dy="-1.53">M</tspan></text>
<text transform="translate(6.9,354.9) scale(0.9,1)" font-size="12.1" text-anchor="start" fill="#000" font-weight="bold">D</text>
<text transform="translate(104.6,368.7) scale(0.95,1)" font-size="10.3" text-anchor="middle" fill="#000" font-weight="bold">LT-HSC</text>
<line x1="157.5" y1="377" x2="157.5" y2="476.1" stroke="#222" stroke-width="1" stroke-dasharray="1 1"/>
<line x1="49.5" y1="375.3" x2="49.5" y2="476.65" stroke="#161616" stroke-width="1.1"/>
<line x1="49.05" y1="476.5" x2="161" y2="476.5" stroke="#161616" stroke-width="1.1"/>
<line x1="45" y1="378.5" x2="49.6" y2="378.5" stroke="#161616" stroke-width="1.1"/>
<text transform="translate(42.7,381.25) scale(0.95,1)" font-size="8.4" text-anchor="end" fill="#1a1a1a" stroke="#1a1a1a" stroke-width="0.3">100</text>
<line x1="45" y1="397.5" x2="49.6" y2="397.5" stroke="#161616" stroke-width="1.1"/>
<text transform="translate(42.7,400.82) scale(0.95,1)" font-size="8.4" text-anchor="end" fill="#1a1a1a" stroke="#1a1a1a" stroke-width="0.3">90</text>
<line x1="45" y1="417.5" x2="49.6" y2="417.5" stroke="#161616" stroke-width="1.1"/>
<text transform="translate(42.7,420.39) scale(0.95,1)" font-size="8.4" text-anchor="end" fill="#1a1a1a" stroke="#1a1a1a" stroke-width="0.3">80</text>
<line x1="45" y1="436.5" x2="49.6" y2="436.5" stroke="#161616" stroke-width="1.1"/>
<text transform="translate(42.7,439.96) scale(0.95,1)" font-size="8.4" text-anchor="end" fill="#1a1a1a" stroke="#1a1a1a" stroke-width="0.3">70</text>
<line x1="45" y1="456.5" x2="49.6" y2="456.5" stroke="#161616" stroke-width="1.1"/>
<text transform="translate(42.7,459.53) scale(0.95,1)" font-size="8.4" text-anchor="end" fill="#1a1a1a" stroke="#1a1a1a" stroke-width="0.3">60</text>
<line x1="45" y1="476.5" x2="49.6" y2="476.5" stroke="#161616" stroke-width="1.1"/>
<text transform="translate(42.7,479.1) scale(0.95,1)" font-size="8.4" text-anchor="end" fill="#1a1a1a" stroke="#1a1a1a" stroke-width="0.3">50</text>
<line x1="49.5" y1="476.1" x2="49.5" y2="479.7" stroke="#161616" stroke-width="1.1"/>
<text transform="translate(49.5,487.4) scale(0.95,1)" font-size="8.4" text-anchor="middle" fill="#1a1a1a" stroke="#1a1a1a" stroke-width="0.3">0.0</text>
<line x1="71.5" y1="476.1" x2="71.5" y2="479.7" stroke="#161616" stroke-width="1.1"/>
<text transform="translate(71.06,487.4) scale(0.95,1)" font-size="8.4" text-anchor="middle" fill="#1a1a1a" stroke="#1a1a1a" stroke-width="0.3">0.2</text>
<line x1="92.5" y1="476.1" x2="92.5" y2="479.7" stroke="#161616" stroke-width="1.1"/>
<text transform="translate(92.62,487.4) scale(0.95,1)" font-size="8.4" text-anchor="middle" fill="#1a1a1a" stroke="#1a1a1a" stroke-width="0.3">0.4</text>
<line x1="114.5" y1="476.1" x2="114.5" y2="479.7" stroke="#161616" stroke-width="1.1"/>
<text transform="translate(114.18,487.4) scale(0.95,1)" font-size="8.4" text-anchor="middle" fill="#1a1a1a" stroke="#1a1a1a" stroke-width="0.3">0.6</text>
<line x1="135.5" y1="476.1" x2="135.5" y2="479.7" stroke="#161616" stroke-width="1.1"/>
<text transform="translate(135.74,487.4) scale(0.95,1)" font-size="8.4" text-anchor="middle" fill="#1a1a1a" stroke="#1a1a1a" stroke-width="0.3">0.8</text>
<line x1="157.5" y1="476.1" x2="157.5" y2="479.7" stroke="#161616" stroke-width="1.1"/>
<text transform="translate(157.3,487.4) scale(0.95,1)" font-size="8.4" text-anchor="middle" fill="#1a1a1a" stroke="#1a1a1a" stroke-width="0.3">1.0</text>
<text transform="translate(104.8,498.6) scale(0.83,1)" font-size="10.6" text-anchor="middle" fill="#1a1a1a" stroke="#1a1a1a" stroke-width="0.3">cell counts normalized to Cre<tspan dy="-3.82" font-size="6.57">-</tspan></text>
<text transform="translate(23.6,425.3) rotate(-90) scale(0.84,1)" font-size="10.6" text-anchor="middle" fill="#1a1a1a" stroke="#1a1a1a" stroke-width="0.3">% of cells in G<tspan dy="1.91" font-size="6.57">0</tspan></text>
<circle cx="50" cy="436.8" r="2.1" fill="#050505"/>
<circle cx="50" cy="441" r="2.1" fill="#050505"/>
<circle cx="67.7" cy="421.7" r="2.1" fill="#050505"/>
<circle cx="78.5" cy="419.8" r="2.1" fill="#050505"/>
<circle cx="65" cy="453.4" r="2.1" fill="#050505"/>
<circle cx="70.9" cy="389.7" r="2.1" fill="#3b4c62"/>
<circle cx="52.3" cy="405" r="2.1" fill="#3b4c62"/>
<circle cx="58.8" cy="402.4" r="2.1" fill="#3b4c62"/>
<circle cx="50.7" cy="410.6" r="2.1" fill="#3b4c62"/>
<circle cx="105.6" cy="413.6" r="2.1" fill="#3b4c62"/>
<circle cx="118" cy="448.2" r="2.1" fill="#3b4c62"/>
<circle cx="107.2" cy="377.8" r="2.2" fill="#050505"/>
<text transform="translate(112.6,380.3) scale(0.98,1)" font-size="7.6" text-anchor="start" fill="#1a1a1a" stroke="#1a1a1a" stroke-width="0.3">Cre<tspan dy="-2.74" font-size="4.71">+</tspan><tspan dy="2.74"> 4 wks</tspan></text>
<circle cx="107.2" cy="387.3" r="2.2" fill="#3b4c62"/>
<text transform="translate(112.6,389.8) scale(0.99,1)" font-size="7.6" text-anchor="start" fill="#1a1a1a" stroke="#1a1a1a" stroke-width="0.3">Cre<tspan dy="-2.74" font-size="4.71">+</tspan><tspan dy="2.74"> 30 wks</tspan></text>
<text transform="translate(191.3,355.2) scale(0.9,1)" font-size="12.1" text-anchor="start" fill="#000" font-weight="bold">E</text>
<text transform="translate(285.7,391.8) scale(0.95,1)" font-size="9.6" text-anchor="end" fill="#1a1a1a" stroke="#1a1a1a" stroke-width="0.3">BM</text>
<text transform="translate(285.7,403.8) scale(1,1)" font-size="9.6" text-anchor="end" fill="#1a1a1a" stroke="#1a1a1a" stroke-width="0.3">analysis</text>
<text transform="translate(218,403.8) scale(1.01,1)" font-size="9.6" text-anchor="start" fill="#444" stroke="#444" stroke-width="0.3">TAM</text>
<line x1="232.5" y1="407.2" x2="232.5" y2="420.98" stroke="#3a3a3a" stroke-width="1.05"/>
<path d="M232 425.3 L229.5 419.9 L232 420.55 L234.5 419.9 Z" fill="#3a3a3a"/>
<line x1="235.5" y1="407.2" x2="235.5" y2="420.98" stroke="#3a3a3a" stroke-width="1.05"/>
<path d="M235.9 425.3 L233.4 419.9 L235.9 420.55 L238.4 419.9 Z" fill="#3a3a3a"/>
<line x1="282.5" y1="407.2" x2="282.5" y2="420.44" stroke="#111" stroke-width="1.2"/>
<path d="M282.5 425.4 L279.5 419.2 L282.5 419.94 L285.5 419.2 Z" fill="#111"/>
<line x1="232.5" y1="425.5" x2="279" y2="425.5" stroke="#111" stroke-width="1.2"/>
<path d="M283.6 425.5 L277.2 422.6 L278.8 425.5 L277.2 428.4 Z" fill="#111"/>
<line x1="234.5" y1="425.5" x2="234.5" y2="428.4" stroke="#111" stroke-width="0.9"/>
<line x1="238.5" y1="425.5" x2="238.5" y2="428.4" stroke="#111" stroke-width="0.9"/>
<line x1="242.5" y1="425.5" x2="242.5" y2="428.4" stroke="#111" stroke-width="0.9"/>
<line x1="246.5" y1="425.5" x2="246.5" y2="428.4" stroke="#111" stroke-width="0.9"/>
<line x1="250.5" y1="425.5" x2="250.5" y2="428.4" stroke="#111" stroke-width="0.9"/>
<line x1="254.5" y1="425.5" x2="254.5" y2="428.4" stroke="#111" stroke-width="0.9"/>
<line x1="258.5" y1="425.5" x2="258.5" y2="428.4" stroke="#111" stroke-width="0.9"/>
<line x1="262.5" y1="425.5" x2="262.5" y2="428.4" stroke="#111" stroke-width="0.9"/>
<line x1="266.5" y1="425.5" x2="266.5" y2="428.4" stroke="#111" stroke-width="0.9"/>
<line x1="270.5" y1="425.5" x2="270.5" y2="428.4" stroke="#111" stroke-width="0.9"/>
<line x1="275.5" y1="425.5" x2="275.5" y2="428.4" stroke="#111" stroke-width="0.9"/>
<text transform="translate(236,437) scale(0.95,1)" font-size="8.6" text-anchor="middle" fill="#1a1a1a" stroke="#1a1a1a" stroke-width="0.3">0</text>
<text transform="translate(253.5,437) scale(0.95,1)" font-size="8.6" text-anchor="middle" fill="#1a1a1a" stroke="#1a1a1a" stroke-width="0.3">6</text>
<text transform="translate(271.2,437) scale(0.95,1)" font-size="8.6" text-anchor="middle" fill="#1a1a1a" stroke="#1a1a1a" stroke-width="0.3">12</text>
<text transform="translate(285.2,449.2) scale(0.95,1)" font-size="9.6" text-anchor="end" fill="#1a1a1a" stroke="#1a1a1a" stroke-width="0.3">wks</text>
<text transform="translate(252.7,420.2) scale(0.93,1)" font-size="8.6" text-anchor="middle" fill="#a52545" stroke="#a52545" stroke-width="0.3">Dox</text>
<line x1="242.3" y1="421.5" x2="265.9" y2="421.5" stroke="#a52545" stroke-width="1.3"/>
<g transform="translate(190.8,408.7) scale(1)" fill="none" stroke="#151515" stroke-width="1.05" stroke-linecap="round" stroke-linejoin="round">
<path d="M0.9 14.6 C-0.6 17.4 0.6 19.2 3.4 19.6 C8.5 20.3 13.5 19.7 18.3 19.2 C20.6 19 22.8 19 24.2 20 C25.6 21.1 24.8 22.4 23.2 22"/>
<path d="M1 16 C0.4 10.5 2.6 5.4 7.6 2.4 C10.8 0.6 15 0.6 19 2.6 C20.6 1.2 22.6 0.6 24.2 1 C26 1.5 27 3 26.8 4.6 C27.6 6 28.2 7.4 29 8.6 L31.8 10.8 C31.6 12 30.6 12.6 29.4 12.6 C28.4 13.6 27.2 14.4 25.6 14.6 L22.4 14 C21.8 15 21 15.6 20 15.8 C17 16.4 13.6 16.6 10.6 16.5 C7.4 16.6 4 16.5 1 16 Z" fill="#fff"/>
<path d="M21.4 4.6 C20.4 2.8 21.2 0.8 22.8 0.5 C23.6 -0.3 25 0 25.4 0.9 C26.6 0.9 27.4 2.2 26.8 3.3 C27.2 4.4 26.6 5.4 25.6 5.6 C24.2 6.2 22.4 5.8 21.4 4.6 Z" fill="#fff"/>
<path d="M19.2 2.8 C16.6 3 14.6 5 14.8 7.2 C15 9 16.6 9.8 18.4 9.5 C19.6 9.3 20.4 8.6 20.8 7.6" fill="#fff"/>
<path d="M17 5.6 C16.6 6.6 16.8 7.6 17.6 8"/>
<circle cx="23.2" cy="9.2" r="1.05" fill="#111" stroke="none"/>
<path d="M30.2 10.6 L31.8 10.8 L30.4 12.2 Z" fill="#111"/>
<path d="M26.4 12.4 L28.6 14.6 M25.4 12.6 L26.4 15.2" stroke-width="0.8"/>
<path d="M8.6 8.4 C10.4 10 11.6 12 11.2 14.2"/>
<path d="M8 15.5 C8.8 14.3 11.6 14.3 12.4 15.5 C11.6 16.7 8.8 16.7 8 15.5 Z" fill="#fff" stroke-width="0.8"/>
<path d="M19.6 15.6 C19.4 14.4 20.4 13.6 21.4 14 M21.6 12.8 L22.6 14"/>
</g>
<text transform="translate(191.5,449.2) scale(1.01,1)" font-size="9.6" text-anchor="start" fill="#1c1c1c" font-style="italic" stroke="#1c1c1c" stroke-width="0.12">HSC-CreERT/</text>
<g transform="translate(191.5,461)" fill="#1c1c1c" font-style="italic" stroke="#1c1c1c" stroke-width="0.12">
<text transform="translate(0,0) scale(1.06,1)" font-size="9.6">R26</text>
<text transform="translate(19.6,-3.4) scale(1.06,1)" font-size="7.3">DTA/rtTA</text>
<text transform="translate(51.2,0) scale(1.27,1)" font-size="9.6">/</text>
</g>
<text transform="translate(191.5,472.8) scale(1.01,1)" font-size="9.6" text-anchor="start" fill="#1c1c1c" font-style="italic" stroke="#1c1c1c" stroke-width="0.12">TetO-H2B-</text>
<g transform="translate(191.5,484.6)" fill="#1c1c1c" font-style="italic" stroke="#1c1c1c" stroke-width="0.12">
<text transform="translate(0,0) scale(0.96,1)" font-size="9.6">RFP</text>
<text transform="translate(19.2,-3.4) scale(1.22,1)" font-size="7.3">ki/wt</text>
</g>
<text transform="translate(346,368.7) scale(0.95,1)" font-size="10.3" text-anchor="middle" fill="#000" font-weight="bold">LT-HSC</text>
<rect x="332" y="378" width="11" height="33.84" fill="#f4e6e3"/>
<rect x="332" y="411.84" width="11" height="59.84" fill="#cb8d83"/>
<rect x="332" y="471.69" width="11" height="4.41" fill="#a8112f"/>
<rect x="348.9" y="378" width="11" height="49.05" fill="#f4e6e3"/>
<rect x="348.9" y="427.05" width="11" height="47.58" fill="#cb8d83"/>
<rect x="348.9" y="474.63" width="11" height="1.47" fill="#a8112f"/>
<line x1="337.5" y1="378" x2="337.5" y2="393.7" stroke="#111" stroke-width="1.3"/>
<line x1="334.6" y1="393.5" x2="340.4" y2="393.5" stroke="#111" stroke-width="1.3"/>
<line x1="354.5" y1="378" x2="354.5" y2="394.19" stroke="#111" stroke-width="1.3"/>
<line x1="351.6" y1="394.5" x2="357.4" y2="394.5" stroke="#111" stroke-width="1.3"/>
<line x1="337.5" y1="411.84" x2="337.5" y2="423.62" stroke="#111" stroke-width="1.3"/>
<line x1="334.6" y1="423.5" x2="340.4" y2="423.5" stroke="#111" stroke-width="1.3"/>
<line x1="354.5" y1="427.05" x2="354.5" y2="441.27" stroke="#111" stroke-width="1.3"/>
<line x1="351.6" y1="441.5" x2="357.4" y2="441.5" stroke="#111" stroke-width="1.3"/>
<line x1="337.5" y1="468.25" x2="337.5" y2="475.12" stroke="#111" stroke-width="1.3"/>
<line x1="334.6" y1="468.5" x2="340.4" y2="468.5" stroke="#111" stroke-width="1.3"/>
<line x1="354.5" y1="472.86" x2="354.5" y2="475.61" stroke="#111" stroke-width="1.3"/>
<line x1="351.6" y1="472.5" x2="357.4" y2="472.5" stroke="#111" stroke-width="1.3"/>
<text transform="translate(346.5,403.8) scale(0.93,1)" font-size="8.4" text-anchor="middle" fill="#1a1a1a" stroke="#1a1a1a" stroke-width="0.3">ns</text>
<line x1="337.9" y1="406.5" x2="354.7" y2="406.5" stroke="#111" stroke-width="1.1"/>
<text transform="translate(346.5,451.9) scale(0.93,1)" font-size="8.4" text-anchor="middle" fill="#1a1a1a" stroke="#1a1a1a" stroke-width="0.3">ns</text>
<line x1="337.9" y1="454.5" x2="354.7" y2="454.5" stroke="#111" stroke-width="1.1"/>
<text transform="translate(346.5,471.9) scale(0.93,1)" font-size="8.4" text-anchor="middle" fill="#1a1a1a" stroke="#1a1a1a" stroke-width="0.3">ns</text>
<line x1="337.9" y1="474.5" x2="354.7" y2="474.5" stroke="#111" stroke-width="1.1"/>
<line x1="328.5" y1="376" x2="328.5" y2="476.65" stroke="#161616" stroke-width="1.1"/>
<line x1="327.85" y1="476.5" x2="363.5" y2="476.5" stroke="#161616" stroke-width="1.1"/>
<line x1="324.8" y1="378.5" x2="328.4" y2="378.5" stroke="#161616" stroke-width="1.1"/>
<text transform="translate(323.1,381) scale(0.95,1)" font-size="8.5" text-anchor="end" fill="#1a1a1a" stroke="#1a1a1a" stroke-width="0.3">100</text>
<line x1="324.8" y1="397.5" x2="328.4" y2="397.5" stroke="#161616" stroke-width="1.1"/>
<text transform="translate(323.1,400.62) scale(0.95,1)" font-size="8.5" text-anchor="end" fill="#1a1a1a" stroke="#1a1a1a" stroke-width="0.3">80</text>
<line x1="324.8" y1="417.5" x2="328.4" y2="417.5" stroke="#161616" stroke-width="1.1"/>
<text transform="translate(323.1,420.24) scale(0.95,1)" font-size="8.5" text-anchor="end" fill="#1a1a1a" stroke="#1a1a1a" stroke-width="0.3">60</text>
<line x1="324.8" y1="436.5" x2="328.4" y2="436.5" stroke="#161616" stroke-width="1.1"/>
<text transform="translate(323.1,439.86) scale(0.95,1)" font-size="8.5" text-anchor="end" fill="#1a1a1a" stroke="#1a1a1a" stroke-width="0.3">40</text>
<line x1="324.8" y1="456.5" x2="328.4" y2="456.5" stroke="#161616" stroke-width="1.1"/>
<text transform="translate(323.1,459.48) scale(0.95,1)" font-size="8.5" text-anchor="end" fill="#1a1a1a" stroke="#1a1a1a" stroke-width="0.3">20</text>
<line x1="324.8" y1="476.5" x2="328.4" y2="476.5" stroke="#161616" stroke-width="1.1"/>
<text transform="translate(323.1,479.1) scale(0.95,1)" font-size="8.5" text-anchor="end" fill="#1a1a1a" stroke="#1a1a1a" stroke-width="0.3">0</text>
<line x1="337.5" y1="476.1" x2="337.5" y2="479.7" stroke="#161616" stroke-width="1.1"/>
<text transform="translate(340.5,485.9) rotate(-45) scale(0.9,1)" font-size="8.4" text-anchor="end" fill="#1a1a1a" stroke="#1a1a1a" stroke-width="0.3">Cre<tspan dy="-3.02" font-size="5.88">-</tspan></text>
<line x1="354.5" y1="476.1" x2="354.5" y2="479.7" stroke="#161616" stroke-width="1.1"/>
<text transform="translate(357.3,485.9) rotate(-45) scale(0.9,1)" font-size="8.4" text-anchor="end" fill="#1a1a1a" stroke="#1a1a1a" stroke-width="0.3">Cre<tspan dy="-3.02" font-size="5.88">+</tspan></text>
<text transform="translate(303.6,426.4) rotate(-90) scale(0.92,1)" font-size="9.4" text-anchor="middle" fill="#1a1a1a" stroke="#1a1a1a" stroke-width="0.3">% of cells</text>
<rect x="369.9" y="380" width="6.5" height="6.5" fill="#f4e6e3"/>
<text transform="translate(379.9,386.2) scale(0.92,1)" font-size="8.5" text-anchor="start" fill="#1a1a1a" stroke="#1a1a1a" stroke-width="0.3">RFP<tspan dy="-3.06" font-size="5.95">-</tspan></text>
<rect x="369.9" y="392.8" width="6.5" height="6.5" fill="#cb8d83"/>
<text transform="translate(379.9,399) scale(0.92,1)" font-size="8.5" text-anchor="start" fill="#1a1a1a" stroke="#1a1a1a" stroke-width="0.3">RFP<tspan dy="-3.06" font-size="5.95">lo</tspan></text>
<rect x="369.9" y="406.1" width="6.5" height="6.5" fill="#a8112f"/>
<text transform="translate(379.9,412.3) scale(0.92,1)" font-size="8.5" text-anchor="start" fill="#1a1a1a" stroke="#1a1a1a" stroke-width="0.3">RFP<tspan dy="-3.06" font-size="5.95">hi</tspan></text>
<text transform="translate(467,357) scale(0.95,1)" font-size="10.3" text-anchor="middle" fill="#000" font-weight="bold">RFP<tspan dy="-3.71" font-size="7.73">+</tspan></text>
<text transform="translate(467,368.7) scale(0.95,1)" font-size="10.3" text-anchor="middle" fill="#000" font-weight="bold">LT-HSC</text>
<line x1="448.5" y1="376" x2="448.5" y2="476.65" stroke="#161616" stroke-width="1.1"/>
<line x1="447.95" y1="476.5" x2="483.6" y2="476.5" stroke="#161616" stroke-width="1.1"/>
<line x1="444.9" y1="378.5" x2="448.5" y2="378.5" stroke="#161616" stroke-width="1.1"/>
<text transform="translate(443.2,381) scale(0.95,1)" font-size="8.5" text-anchor="end" fill="#1a1a1a" stroke="#1a1a1a" stroke-width="0.3">5000</text>
<line x1="444.9" y1="397.5" x2="448.5" y2="397.5" stroke="#161616" stroke-width="1.1"/>
<text transform="translate(443.2,400.62) scale(0.95,1)" font-size="8.5" text-anchor="end" fill="#1a1a1a" stroke="#1a1a1a" stroke-width="0.3">4000</text>
<line x1="444.9" y1="417.5" x2="448.5" y2="417.5" stroke="#161616" stroke-width="1.1"/>
<text transform="translate(443.2,420.24) scale(0.95,1)" font-size="8.5" text-anchor="end" fill="#1a1a1a" stroke="#1a1a1a" stroke-width="0.3">3000</text>
<line x1="444.9" y1="436.5" x2="448.5" y2="436.5" stroke="#161616" stroke-width="1.1"/>
<text transform="translate(443.2,439.86) scale(0.95,1)" font-size="8.5" text-anchor="end" fill="#1a1a1a" stroke="#1a1a1a" stroke-width="0.3">2000</text>
<line x1="444.9" y1="456.5" x2="448.5" y2="456.5" stroke="#161616" stroke-width="1.1"/>
<text transform="translate(443.2,459.48) scale(0.95,1)" font-size="8.5" text-anchor="end" fill="#1a1a1a" stroke="#1a1a1a" stroke-width="0.3">1000</text>
<line x1="444.9" y1="476.5" x2="448.5" y2="476.5" stroke="#161616" stroke-width="1.1"/>
<text transform="translate(443.2,479.1) scale(0.95,1)" font-size="8.5" text-anchor="end" fill="#1a1a1a" stroke="#1a1a1a" stroke-width="0.3">0</text>
<line x1="457.5" y1="476.1" x2="457.5" y2="479.7" stroke="#161616" stroke-width="1.1"/>
<text transform="translate(459.8,485.9) rotate(-45) scale(0.9,1)" font-size="8.4" text-anchor="end" fill="#1a1a1a" stroke="#1a1a1a" stroke-width="0.3">Cre<tspan dy="-3.02" font-size="5.88">-</tspan></text>
<line x1="474.5" y1="476.1" x2="474.5" y2="479.7" stroke="#161616" stroke-width="1.1"/>
<text transform="translate(476.8,485.9) rotate(-45) scale(0.9,1)" font-size="8.4" text-anchor="end" fill="#1a1a1a" stroke="#1a1a1a" stroke-width="0.3">Cre<tspan dy="-3.02" font-size="5.88">+</tspan></text>
<text transform="translate(419,426) rotate(-90) scale(0.91,1)" font-size="9" text-anchor="middle" fill="#1a1a1a" stroke="#1a1a1a" stroke-width="0.3">MFI H2B-RFP</text>
<text transform="translate(466,380.6) scale(0.93,1)" font-size="8.4" text-anchor="middle" fill="#1a1a1a" stroke="#1a1a1a" stroke-width="0.3">ns</text>
<circle cx="457.2" cy="394.2" r="2.5" fill="#2f4a7d"/>
<circle cx="454.2" cy="404.2" r="2.5" fill="#2f4a7d"/>
<circle cx="460.2" cy="409.3" r="2.5" fill="#2f4a7d"/>
<circle cx="457.2" cy="421.7" r="2.5" fill="#2f4a7d"/>
<circle cx="454.2" cy="427.6" r="2.5" fill="#2f4a7d"/>
<circle cx="460.2" cy="429.9" r="2.5" fill="#2f4a7d"/>
<circle cx="457.2" cy="440.9" r="2.5" fill="#2f4a7d"/>
<circle cx="474.2" cy="399.8" r="2.5" fill="#a8112f"/>
<circle cx="474.2" cy="419.8" r="2.5" fill="#a8112f"/>
<circle cx="475.6" cy="426.9" r="2.5" fill="#a8112f"/>
<circle cx="471.9" cy="428.3" r="2.5" fill="#a8112f"/>
<circle cx="472.4" cy="438" r="2.5" fill="#a8112f"/>
<circle cx="476.6" cy="439.2" r="2.5" fill="#a8112f"/>
<circle cx="474.2" cy="443.9" r="2.5" fill="#a8112f"/>
<line x1="451.4" y1="417.5" x2="463" y2="417.5" stroke="#111" stroke-width="1.2"/>
<line x1="468.4" y1="427.5" x2="480" y2="427.5" stroke="#111" stroke-width="1.2"/>
<text transform="translate(6.7,523.7) scale(0.9,1)" font-size="12.1" text-anchor="start" fill="#000" font-weight="bold">F</text>
<text transform="translate(14.8,548.3) scale(1.06,1)" font-size="9.2" text-anchor="start" fill="#1a1a1a" stroke="#1a1a1a" stroke-width="0.3">100 LT-HSCs</text>
<g transform="translate(14.8,560.4)" fill="#1c1c1c" font-style="italic" stroke="#1c1c1c" stroke-width="0.12">
<text transform="translate(0,0) scale(1.07,1)" font-size="9.2">HSC-CreERT/R26</text>
<text transform="translate(81.6,-3.3) scale(1.13,1)" font-size="7">DTA/DTA</text>
</g>
<text transform="translate(14.8,571.7) scale(1.06,1)" font-size="9.2" text-anchor="start" fill="#1a1a1a" stroke="#1a1a1a" stroke-width="0.3">(17 wks after TAM)</text>
<line x1="46.3" y1="576" x2="46.3" y2="588.88" stroke="#111" stroke-width="1.4"/>
<path d="M46.3 594 L42.9 587.6 L46.3 588.37 L49.7 587.6 Z" fill="#111"/>
<line x1="46.3" y1="644.8" x2="46.3" y2="629.72" stroke="#111" stroke-width="1.4"/>
<path d="M46.3 624.6 L42.9 631 L46.3 630.23 L49.7 631 Z" fill="#111"/>
<g transform="translate(34.7,600.6) scale(1.01)" fill="none" stroke="#151515" stroke-width="1.04" stroke-linecap="round" stroke-linejoin="round">
<path d="M0.9 14.6 C-0.6 17.4 0.6 19.2 3.4 19.6 C8.5 20.3 13.5 19.7 18.3 19.2 C20.6 19 22.8 19 24.2 20 C25.6 21.1 24.8 22.4 23.2 22"/>
<path d="M1 16 C0.4 10.5 2.6 5.4 7.6 2.4 C10.8 0.6 15 0.6 19 2.6 C20.6 1.2 22.6 0.6 24.2 1 C26 1.5 27 3 26.8 4.6 C27.6 6 28.2 7.4 29 8.6 L31.8 10.8 C31.6 12 30.6 12.6 29.4 12.6 C28.4 13.6 27.2 14.4 25.6 14.6 L22.4 14 C21.8 15 21 15.6 20 15.8 C17 16.4 13.6 16.6 10.6 16.5 C7.4 16.6 4 16.5 1 16 Z" fill="#fff"/>
<path d="M21.4 4.6 C20.4 2.8 21.2 0.8 22.8 0.5 C23.6 -0.3 25 0 25.4 0.9 C26.6 0.9 27.4 2.2 26.8 3.3 C27.2 4.4 26.6 5.4 25.6 5.6 C24.2 6.2 22.4 5.8 21.4 4.6 Z" fill="#fff"/>
<path d="M19.2 2.8 C16.6 3 14.6 5 14.8 7.2 C15 9 16.6 9.8 18.4 9.5 C19.6 9.3 20.4 8.6 20.8 7.6" fill="#fff"/>
<path d="M17 5.6 C16.6 6.6 16.8 7.6 17.6 8"/>
<circle cx="23.2" cy="9.2" r="1.05" fill="#111" stroke="none"/>
<path d="M30.2 10.6 L31.8 10.8 L30.4 12.2 Z" fill="#111"/>
<path d="M26.4 12.4 L28.6 14.6 M25.4 12.6 L26.4 15.2" stroke-width="0.79"/>
<path d="M8.6 8.4 C10.4 10 11.6 12 11.2 14.2"/>
<path d="M8 15.5 C8.8 14.3 11.6 14.3 12.4 15.5 C11.6 16.7 8.8 16.7 8 15.5 Z" fill="#fff" stroke-width="0.79"/>
<path d="M19.6 15.6 C19.4 14.4 20.4 13.6 21.4 14 M21.6 12.8 L22.6 14"/>
</g>
<path d="M24.6 594.1 L33.4 591.2 L36.6 597.6 L39.6 596.4 L47.2 607.6 L37.6 601.6 L35 602.6 Z" fill="#fff" stroke="#111" stroke-width="1.35" stroke-linejoin="miter"/>
<text transform="translate(76.4,616.6) scale(1.02,1)" font-size="9.2" text-anchor="start" fill="#1a1a1a" stroke="#1a1a1a" stroke-width="0.3">wt</text>
<text transform="translate(14.8,654.7) scale(1.06,1)" font-size="9.2" text-anchor="start" fill="#1a1a1a" stroke="#1a1a1a" stroke-width="0.3">3 x 10<tspan dy="-3.31" font-size="5.7">5</tspan><tspan dy="3.31"> congenic wt</tspan></text>
<text transform="translate(14.8,667.3) scale(1.08,1)" font-size="9.2" text-anchor="start" fill="#1a1a1a" stroke="#1a1a1a" stroke-width="0.3">WBMCs</text>
<g transform="translate(152.6,659.4) rotate(-90)" fill="#1a1a1a" stroke="#1a1a1a" stroke-width="0.28">
<text transform="translate(0,0) scale(0.81,1)" font-size="10.4">R26</text>
<text transform="translate(16,-3.4) scale(0.96,1)" font-size="7.6">DTA/DTA</text>
<text transform="translate(48.4,0) scale(1,1)" font-size="10.4">chimerism [%]</text>
</g>
<text transform="translate(229.6,537.5) scale(0.95,1)" font-size="10.3" text-anchor="middle" fill="#000" font-weight="bold">PB Neutrophils</text>
<line x1="174.3" y1="637.72" x2="176.5" y2="637.72" stroke="#222" stroke-width="0.8"/>
<line x1="174.3" y1="629.14" x2="176.5" y2="629.14" stroke="#222" stroke-width="0.8"/>
<line x1="174.3" y1="623.05" x2="176.5" y2="623.05" stroke="#222" stroke-width="0.8"/>
<line x1="174.3" y1="618.33" x2="176.5" y2="618.33" stroke="#222" stroke-width="0.8"/>
<line x1="174.3" y1="614.47" x2="176.5" y2="614.47" stroke="#222" stroke-width="0.8"/>
<line x1="174.3" y1="611.2" x2="176.5" y2="611.2" stroke="#222" stroke-width="0.8"/>
<line x1="174.3" y1="608.37" x2="176.5" y2="608.37" stroke="#222" stroke-width="0.8"/>
<line x1="174.3" y1="605.88" x2="176.5" y2="605.88" stroke="#222" stroke-width="0.8"/>
<line x1="174.3" y1="588.97" x2="176.5" y2="588.97" stroke="#222" stroke-width="0.8"/>
<line x1="174.3" y1="580.39" x2="176.5" y2="580.39" stroke="#222" stroke-width="0.8"/>
<line x1="174.3" y1="574.3" x2="176.5" y2="574.3" stroke="#222" stroke-width="0.8"/>
<line x1="174.3" y1="569.58" x2="176.5" y2="569.58" stroke="#222" stroke-width="0.8"/>
<line x1="174.3" y1="565.72" x2="176.5" y2="565.72" stroke="#222" stroke-width="0.8"/>
<line x1="174.3" y1="562.45" x2="176.5" y2="562.45" stroke="#222" stroke-width="0.8"/>
<line x1="174.3" y1="559.62" x2="176.5" y2="559.62" stroke="#222" stroke-width="0.8"/>
<line x1="174.3" y1="557.13" x2="176.5" y2="557.13" stroke="#222" stroke-width="0.8"/>
<line x1="176.5" y1="552.5" x2="176.5" y2="653.05" stroke="#161616" stroke-width="1.1"/>
<line x1="175.95" y1="652.5" x2="282.7" y2="652.5" stroke="#161616" stroke-width="1.1"/>
<line x1="173.3" y1="554.5" x2="176.5" y2="554.5" stroke="#161616" stroke-width="1.1"/>
<text transform="translate(171.3,557.9) scale(0.95,1)" font-size="8.5" text-anchor="end" fill="#1a1a1a" stroke="#1a1a1a" stroke-width="0.3">100</text>
<line x1="173.3" y1="603.5" x2="176.5" y2="603.5" stroke="#161616" stroke-width="1.1"/>
<text transform="translate(171.3,606.1) scale(0.95,1)" font-size="8.5" text-anchor="end" fill="#1a1a1a" stroke="#1a1a1a" stroke-width="0.3">10</text>
<line x1="173.3" y1="652.5" x2="176.5" y2="652.5" stroke="#161616" stroke-width="1.1"/>
<text transform="translate(171.3,655.4) scale(0.95,1)" font-size="8.5" text-anchor="end" fill="#1a1a1a" stroke="#1a1a1a" stroke-width="0.3">1</text>
<line x1="186.5" y1="652.5" x2="186.5" y2="655.7" stroke="#161616" stroke-width="1.1"/>
<text transform="translate(186,664) scale(0.95,1)" font-size="8.5" text-anchor="middle" fill="#1a1a1a" stroke="#1a1a1a" stroke-width="0.3">5</text>
<line x1="209.5" y1="652.5" x2="209.5" y2="655.7" stroke="#161616" stroke-width="1.1"/>
<text transform="translate(209.3,664) scale(0.95,1)" font-size="8.5" text-anchor="middle" fill="#1a1a1a" stroke="#1a1a1a" stroke-width="0.3">10</text>
<line x1="232.5" y1="652.5" x2="232.5" y2="655.7" stroke="#161616" stroke-width="1.1"/>
<text transform="translate(232.6,664) scale(0.95,1)" font-size="8.5" text-anchor="middle" fill="#1a1a1a" stroke="#1a1a1a" stroke-width="0.3">15</text>
<line x1="255.5" y1="652.5" x2="255.5" y2="655.7" stroke="#161616" stroke-width="1.1"/>
<text transform="translate(255.9,664) scale(0.95,1)" font-size="8.5" text-anchor="middle" fill="#1a1a1a" stroke="#1a1a1a" stroke-width="0.3">20</text>
<line x1="279.5" y1="652.5" x2="279.5" y2="655.7" stroke="#161616" stroke-width="1.1"/>
<text transform="translate(279.2,664) scale(0.95,1)" font-size="8.5" text-anchor="middle" fill="#1a1a1a" stroke="#1a1a1a" stroke-width="0.3">25</text>
<text transform="translate(231.2,677.3) scale(0.79,1)" font-size="11" text-anchor="middle" fill="#1a1a1a" stroke="#1a1a1a" stroke-width="0.33">weeks after transplantation</text>
<line x1="181.5" y1="564.7" x2="181.5" y2="575" stroke="#111" stroke-width="1.2"/>
<line x1="178.9" y1="564.5" x2="184.1" y2="564.5" stroke="#111" stroke-width="1.2"/>
<line x1="214.5" y1="563.3" x2="214.5" y2="579" stroke="#111" stroke-width="1.2"/>
<line x1="211.9" y1="563.5" x2="217.1" y2="563.5" stroke="#111" stroke-width="1.2"/>
<line x1="232.5" y1="562.4" x2="232.5" y2="581" stroke="#111" stroke-width="1.2"/>
<line x1="229.9" y1="562.5" x2="235.1" y2="562.5" stroke="#111" stroke-width="1.2"/>
<line x1="270.5" y1="561.2" x2="270.5" y2="584" stroke="#111" stroke-width="1.2"/>
<line x1="267.9" y1="561.5" x2="273.1" y2="561.5" stroke="#111" stroke-width="1.2"/>
<path d="M181.5 568.5 L214 569.4 L232.5 569.4 L270 568.8" stroke="#0a0a0a" stroke-width="1.6" fill="none" stroke-linejoin="round" stroke-dasharray="3.2 1.5"/>
<path d="M181.5 574 L214 578 L232.5 579.8 L270 583.2" stroke="#0a0a0a" stroke-width="1.8" fill="none" stroke-linejoin="round"/>
<circle cx="181.5" cy="568.5" r="1.9" fill="#e8e8e8" stroke="#0a0a0a" stroke-width="1.1"/>
<circle cx="214" cy="569.4" r="1.9" fill="#e8e8e8" stroke="#0a0a0a" stroke-width="1.1"/>
<circle cx="232.5" cy="569.4" r="1.9" fill="#e8e8e8" stroke="#0a0a0a" stroke-width="1.1"/>
<circle cx="270" cy="568.8" r="1.9" fill="#e8e8e8" stroke="#0a0a0a" stroke-width="1.1"/>
<circle cx="181.5" cy="574" r="2.4" fill="#050505"/>
<circle cx="214" cy="578" r="2.4" fill="#050505"/>
<circle cx="232.5" cy="579.8" r="2.4" fill="#050505"/>
<circle cx="270" cy="583.2" r="2.4" fill="#050505"/>
<text transform="translate(183.8,583) scale(0.93,1)" font-size="8.4" text-anchor="middle" fill="#1a1a1a" stroke="#1a1a1a" stroke-width="0.3">ns</text>
<text transform="translate(215.5,586.8) scale(0.93,1)" font-size="8.4" text-anchor="middle" fill="#1a1a1a" stroke="#1a1a1a" stroke-width="0.3">ns</text>
<text transform="translate(234.6,588.3) scale(0.93,1)" font-size="8.4" text-anchor="middle" fill="#1a1a1a" stroke="#1a1a1a" stroke-width="0.3">ns</text>
<text transform="translate(270,591.8) scale(0.93,1)" font-size="8.4" text-anchor="middle" fill="#1a1a1a" stroke="#1a1a1a" stroke-width="0.3">ns</text>
<line x1="192.6" y1="549.5" x2="204" y2="549.5" stroke="#111" stroke-width="1.2" stroke-dasharray="2.2 1.2"/>
<circle cx="198.3" cy="549.5" r="1.7" fill="#fff" stroke="#111" stroke-width="1.1"/>
<text transform="translate(207.5,552.3) scale(0.92,1)" font-size="7.8" text-anchor="start" fill="#1a1a1a" stroke="#1a1a1a" stroke-width="0.3">Cre<tspan dy="-2.81" font-size="4.84">-</tspan></text>
<line x1="236.6" y1="549.5" x2="248" y2="549.5" stroke="#111" stroke-width="1.4"/>
<circle cx="242.3" cy="549.5" r="1.9" fill="#050505"/>
<text transform="translate(250.3,552.3) scale(0.92,1)" font-size="7.8" text-anchor="start" fill="#1a1a1a" stroke="#1a1a1a" stroke-width="0.3">Cre<tspan dy="-2.81" font-size="4.84">+</tspan></text>
<text transform="translate(369.7,537.5) scale(0.95,1)" font-size="10.3" text-anchor="middle" fill="#000" font-weight="bold">PB B cells &amp; T cells</text>
<line x1="314.4" y1="637.72" x2="316.6" y2="637.72" stroke="#222" stroke-width="0.8"/>
<line x1="314.4" y1="629.14" x2="316.6" y2="629.14" stroke="#222" stroke-width="0.8"/>
<line x1="314.4" y1="623.05" x2="316.6" y2="623.05" stroke="#222" stroke-width="0.8"/>
<line x1="314.4" y1="618.33" x2="316.6" y2="618.33" stroke="#222" stroke-width="0.8"/>
<line x1="314.4" y1="614.47" x2="316.6" y2="614.47" stroke="#222" stroke-width="0.8"/>
<line x1="314.4" y1="611.2" x2="316.6" y2="611.2" stroke="#222" stroke-width="0.8"/>
<line x1="314.4" y1="608.37" x2="316.6" y2="608.37" stroke="#222" stroke-width="0.8"/>
<line x1="314.4" y1="605.88" x2="316.6" y2="605.88" stroke="#222" stroke-width="0.8"/>
<line x1="314.4" y1="588.97" x2="316.6" y2="588.97" stroke="#222" stroke-width="0.8"/>
<line x1="314.4" y1="580.39" x2="316.6" y2="580.39" stroke="#222" stroke-width="0.8"/>
<line x1="314.4" y1="574.3" x2="316.6" y2="574.3" stroke="#222" stroke-width="0.8"/>
<line x1="314.4" y1="569.58" x2="316.6" y2="569.58" stroke="#222" stroke-width="0.8"/>
<line x1="314.4" y1="565.72" x2="316.6" y2="565.72" stroke="#222" stroke-width="0.8"/>
<line x1="314.4" y1="562.45" x2="316.6" y2="562.45" stroke="#222" stroke-width="0.8"/>
<line x1="314.4" y1="559.62" x2="316.6" y2="559.62" stroke="#222" stroke-width="0.8"/>
<line x1="314.4" y1="557.13" x2="316.6" y2="557.13" stroke="#222" stroke-width="0.8"/>
<line x1="316.5" y1="552.5" x2="316.5" y2="653.05" stroke="#161616" stroke-width="1.1"/>
<line x1="316.05" y1="652.5" x2="422.9" y2="652.5" stroke="#161616" stroke-width="1.1"/>
<line x1="313.4" y1="554.5" x2="316.6" y2="554.5" stroke="#161616" stroke-width="1.1"/>
<text transform="translate(311.4,557.9) scale(0.95,1)" font-size="8.5" text-anchor="end" fill="#1a1a1a" stroke="#1a1a1a" stroke-width="0.3">100</text>
<line x1="313.4" y1="603.5" x2="316.6" y2="603.5" stroke="#161616" stroke-width="1.1"/>
<text transform="translate(311.4,606.1) scale(0.95,1)" font-size="8.5" text-anchor="end" fill="#1a1a1a" stroke="#1a1a1a" stroke-width="0.3">10</text>
<line x1="313.4" y1="652.5" x2="316.6" y2="652.5" stroke="#161616" stroke-width="1.1"/>
<text transform="translate(311.4,655.4) scale(0.95,1)" font-size="8.5" text-anchor="end" fill="#1a1a1a" stroke="#1a1a1a" stroke-width="0.3">1</text>
<line x1="326.5" y1="652.5" x2="326.5" y2="655.7" stroke="#161616" stroke-width="1.1"/>
<text transform="translate(326.2,664) scale(0.95,1)" font-size="8.5" text-anchor="middle" fill="#1a1a1a" stroke="#1a1a1a" stroke-width="0.3">5</text>
<line x1="349.5" y1="652.5" x2="349.5" y2="655.7" stroke="#161616" stroke-width="1.1"/>
<text transform="translate(349.5,664) scale(0.95,1)" font-size="8.5" text-anchor="middle" fill="#1a1a1a" stroke="#1a1a1a" stroke-width="0.3">10</text>
<line x1="372.5" y1="652.5" x2="372.5" y2="655.7" stroke="#161616" stroke-width="1.1"/>
<text transform="translate(372.8,664) scale(0.95,1)" font-size="8.5" text-anchor="middle" fill="#1a1a1a" stroke="#1a1a1a" stroke-width="0.3">15</text>
<line x1="396.5" y1="652.5" x2="396.5" y2="655.7" stroke="#161616" stroke-width="1.1"/>
<text transform="translate(396.1,664) scale(0.95,1)" font-size="8.5" text-anchor="middle" fill="#1a1a1a" stroke="#1a1a1a" stroke-width="0.3">20</text>
<line x1="419.5" y1="652.5" x2="419.5" y2="655.7" stroke="#161616" stroke-width="1.1"/>
<text transform="translate(419.4,664) scale(0.95,1)" font-size="8.5" text-anchor="middle" fill="#1a1a1a" stroke="#1a1a1a" stroke-width="0.3">25</text>
<text transform="translate(371.3,677.3) scale(0.79,1)" font-size="11" text-anchor="middle" fill="#1a1a1a" stroke="#1a1a1a" stroke-width="0.33">weeks after transplantation</text>
<line x1="322.5" y1="579.2" x2="322.5" y2="634.6" stroke="#111" stroke-width="1.2"/>
<line x1="319.9" y1="579.5" x2="325.1" y2="579.5" stroke="#111" stroke-width="1.2"/>
<line x1="319.9" y1="634.5" x2="325.1" y2="634.5" stroke="#111" stroke-width="1.2"/>
<line x1="319.6" y1="583.5" x2="324.4" y2="583.5" stroke="#111" stroke-width="1.1"/>
<line x1="354.5" y1="571.5" x2="354.5" y2="610" stroke="#111" stroke-width="1.2"/>
<line x1="351.9" y1="571.5" x2="357.1" y2="571.5" stroke="#111" stroke-width="1.2"/>
<line x1="351.9" y1="610.5" x2="357.1" y2="610.5" stroke="#111" stroke-width="1.2"/>
<line x1="352" y1="573.5" x2="356.8" y2="573.5" stroke="#111" stroke-width="1.1"/>
<line x1="352" y1="600.5" x2="356.8" y2="600.5" stroke="#111" stroke-width="1.1"/>
<line x1="373.5" y1="569.4" x2="373.5" y2="604.8" stroke="#111" stroke-width="1.2"/>
<line x1="370.9" y1="569.5" x2="376.1" y2="569.5" stroke="#111" stroke-width="1.2"/>
<line x1="370.9" y1="604.5" x2="376.1" y2="604.5" stroke="#111" stroke-width="1.2"/>
<line x1="370.6" y1="572.5" x2="375.4" y2="572.5" stroke="#111" stroke-width="1.1"/>
<line x1="370.6" y1="598.5" x2="375.4" y2="598.5" stroke="#111" stroke-width="1.1"/>
<line x1="410.5" y1="565.4" x2="410.5" y2="628.5" stroke="#111" stroke-width="1.2"/>
<line x1="407.9" y1="565.5" x2="413.1" y2="565.5" stroke="#111" stroke-width="1.2"/>
<line x1="407.9" y1="628.5" x2="413.1" y2="628.5" stroke="#111" stroke-width="1.2"/>
<line x1="408" y1="569.5" x2="412.8" y2="569.5" stroke="#111" stroke-width="1.1"/>
<line x1="408" y1="619.5" x2="412.8" y2="619.5" stroke="#111" stroke-width="1.1"/>
<path d="M321.5 597 L354.2 584.5 L372.8 581.7 L410.1 576.8" stroke="#0a0a0a" stroke-width="1.4" fill="none" stroke-linejoin="round" stroke-dasharray="1.5 1.2"/>
<path d="M321.5 599.8 L354.2 578.3 L372.8 577.7 L410.1 574.6" stroke="#0a0a0a" stroke-width="1.6" fill="none" stroke-linejoin="round" stroke-dasharray="3.2 1.5"/>
<path d="M321.5 610 L354.2 592.5 L372.8 593.7 L410.1 596.2" stroke="#0a0a0a" stroke-width="1.8" fill="none" stroke-linejoin="round"/>
<path d="M321.5 609 L354.2 591 L372.8 591 L410.1 587" stroke="#0a0a0a" stroke-width="1.8" fill="none" stroke-linejoin="round"/>
<path d="M321.5 594.72 l2.18 3.99 l-4.37 0 z" fill="#fff" stroke="#0a0a0a" stroke-width="1.1"/>
<path d="M354.2 582.22 l2.18 3.99 l-4.37 0 z" fill="#fff" stroke="#0a0a0a" stroke-width="1.1"/>
<path d="M372.8 579.42 l2.18 3.99 l-4.37 0 z" fill="#fff" stroke="#0a0a0a" stroke-width="1.1"/>
<path d="M410.1 574.52 l2.18 3.99 l-4.37 0 z" fill="#fff" stroke="#0a0a0a" stroke-width="1.1"/>
<circle cx="321.5" cy="599.8" r="1.9" fill="#e8e8e8" stroke="#0a0a0a" stroke-width="1.1"/>
<circle cx="354.2" cy="578.3" r="1.9" fill="#e8e8e8" stroke="#0a0a0a" stroke-width="1.1"/>
<circle cx="372.8" cy="577.7" r="1.9" fill="#e8e8e8" stroke="#0a0a0a" stroke-width="1.1"/>
<circle cx="410.1" cy="574.6" r="1.9" fill="#e8e8e8" stroke="#0a0a0a" stroke-width="1.1"/>
<path d="M321.5 607.48 l2.42 4.41 l-4.83 0 z" fill="#050505"/>
<path d="M354.2 589.98 l2.42 4.41 l-4.83 0 z" fill="#050505"/>
<path d="M372.8 591.18 l2.42 4.41 l-4.83 0 z" fill="#050505"/>
<path d="M410.1 593.68 l2.42 4.41 l-4.83 0 z" fill="#050505"/>
<circle cx="321.5" cy="609" r="2.4" fill="#050505"/>
<circle cx="354.2" cy="591" r="2.4" fill="#050505"/>
<circle cx="372.8" cy="591" r="2.4" fill="#050505"/>
<circle cx="410.1" cy="587" r="2.4" fill="#050505"/>
<text transform="translate(326.2,616.8) scale(0.93,1)" font-size="8.4" text-anchor="middle" fill="#1a1a1a" stroke="#1a1a1a" stroke-width="0.3">ns</text>
<text transform="translate(326.2,627) scale(0.93,1)" font-size="8.4" text-anchor="middle" fill="#1a1a1a" stroke="#1a1a1a" stroke-width="0.3">ns</text>
<text transform="translate(356,602.4) scale(0.93,1)" font-size="8.4" text-anchor="middle" fill="#1a1a1a" stroke="#1a1a1a" stroke-width="0.3">ns</text>
<text transform="translate(356,612.8) scale(0.93,1)" font-size="8.4" text-anchor="middle" fill="#1a1a1a" stroke="#1a1a1a" stroke-width="0.3">ns</text>
<text transform="translate(374.5,602.4) scale(0.93,1)" font-size="8.4" text-anchor="middle" fill="#1a1a1a" stroke="#1a1a1a" stroke-width="0.3">ns</text>
<text transform="translate(374.5,612.8) scale(0.93,1)" font-size="8.4" text-anchor="middle" fill="#1a1a1a" stroke="#1a1a1a" stroke-width="0.3">ns</text>
<text transform="translate(410.2,603.9) scale(0.93,1)" font-size="8.4" text-anchor="middle" fill="#1a1a1a" stroke="#1a1a1a" stroke-width="0.3">ns</text>
<text transform="translate(410.2,613.7) scale(0.93,1)" font-size="8.4" text-anchor="middle" fill="#1a1a1a" stroke="#1a1a1a" stroke-width="0.3">ns</text>
<line x1="327.7" y1="549.5" x2="339.6" y2="549.5" stroke="#111" stroke-width="1.2" stroke-dasharray="2.2 1.2"/>
<circle cx="333.8" cy="549" r="1.7" fill="#fff" stroke="#111" stroke-width="1.1"/>
<text transform="translate(341.7,551.8) scale(0.92,1)" font-size="7.8" text-anchor="start" fill="#1a1a1a" stroke="#1a1a1a" stroke-width="0.3">Cre<tspan dy="-2.81" font-size="4.84">-</tspan></text>
<line x1="327.7" y1="557.7" x2="339.6" y2="557.7" stroke="#111" stroke-width="1.4"/>
<circle cx="333.8" cy="557.7" r="1.9" fill="#050505"/>
<text transform="translate(341.7,560.5) scale(0.92,1)" font-size="7.8" text-anchor="start" fill="#1a1a1a" stroke="#1a1a1a" stroke-width="0.3">Cre<tspan dy="-2.81" font-size="4.84">+</tspan></text>
<line x1="385.5" y1="549.5" x2="397.4" y2="549.5" stroke="#111" stroke-width="1.1" stroke-dasharray="1.3 1.1"/>
<path d="M391.4 547.08 l1.84 3.36 l-3.68 0 z" fill="#fff" stroke="#111" stroke-width="1.1"/>
<text transform="translate(399.6,551.8) scale(0.92,1)" font-size="7.8" text-anchor="start" fill="#1a1a1a" stroke="#1a1a1a" stroke-width="0.3">Cre<tspan dy="-2.81" font-size="4.84">-</tspan></text>
<line x1="385.5" y1="557.7" x2="397.4" y2="557.7" stroke="#111" stroke-width="1.4"/>
<path d="M391.4 555.54 l2.07 3.78 l-4.14 0 z" fill="#050505"/>
<text transform="translate(399.6,560.5) scale(0.92,1)" font-size="7.8" text-anchor="start" fill="#1a1a1a" stroke="#1a1a1a" stroke-width="0.3">Cre<tspan dy="-2.81" font-size="4.84">+</tspan></text>
<g transform="translate(446.6,658.9) rotate(-90)" fill="#1a1a1a" stroke="#1a1a1a" stroke-width="0.28">
<text transform="translate(0,0) scale(0.81,1)" font-size="10.4">R26</text>
<text transform="translate(16,-3.4) scale(0.96,1)" font-size="7.6">DTA/DTA</text>
<text transform="translate(48.4,0) scale(0.99,1)" font-size="10.4">chimerism [%]</text>
</g>
<text transform="translate(486.2,537.5) scale(0.92,1)" font-size="10.3" text-anchor="middle" fill="#000" font-weight="bold">BM LSK</text>
<line x1="468.5" y1="642.6" x2="470.7" y2="642.6" stroke="#222" stroke-width="0.8"/>
<line x1="468.5" y1="636.86" x2="470.7" y2="636.86" stroke="#222" stroke-width="0.8"/>
<line x1="468.5" y1="632.79" x2="470.7" y2="632.79" stroke="#222" stroke-width="0.8"/>
<line x1="468.5" y1="629.63" x2="470.7" y2="629.63" stroke="#222" stroke-width="0.8"/>
<line x1="468.5" y1="627.06" x2="470.7" y2="627.06" stroke="#222" stroke-width="0.8"/>
<line x1="468.5" y1="624.88" x2="470.7" y2="624.88" stroke="#222" stroke-width="0.8"/>
<line x1="468.5" y1="622.99" x2="470.7" y2="622.99" stroke="#222" stroke-width="0.8"/>
<line x1="468.5" y1="621.32" x2="470.7" y2="621.32" stroke="#222" stroke-width="0.8"/>
<line x1="468.5" y1="610.03" x2="470.7" y2="610.03" stroke="#222" stroke-width="0.8"/>
<line x1="468.5" y1="604.29" x2="470.7" y2="604.29" stroke="#222" stroke-width="0.8"/>
<line x1="468.5" y1="600.22" x2="470.7" y2="600.22" stroke="#222" stroke-width="0.8"/>
<line x1="468.5" y1="597.06" x2="470.7" y2="597.06" stroke="#222" stroke-width="0.8"/>
<line x1="468.5" y1="594.49" x2="470.7" y2="594.49" stroke="#222" stroke-width="0.8"/>
<line x1="468.5" y1="592.31" x2="470.7" y2="592.31" stroke="#222" stroke-width="0.8"/>
<line x1="468.5" y1="590.42" x2="470.7" y2="590.42" stroke="#222" stroke-width="0.8"/>
<line x1="468.5" y1="588.75" x2="470.7" y2="588.75" stroke="#222" stroke-width="0.8"/>
<line x1="468.5" y1="577.46" x2="470.7" y2="577.46" stroke="#222" stroke-width="0.8"/>
<line x1="468.5" y1="571.72" x2="470.7" y2="571.72" stroke="#222" stroke-width="0.8"/>
<line x1="468.5" y1="567.65" x2="470.7" y2="567.65" stroke="#222" stroke-width="0.8"/>
<line x1="468.5" y1="564.49" x2="470.7" y2="564.49" stroke="#222" stroke-width="0.8"/>
<line x1="468.5" y1="561.92" x2="470.7" y2="561.92" stroke="#222" stroke-width="0.8"/>
<line x1="468.5" y1="559.74" x2="470.7" y2="559.74" stroke="#222" stroke-width="0.8"/>
<line x1="468.5" y1="557.85" x2="470.7" y2="557.85" stroke="#222" stroke-width="0.8"/>
<line x1="468.5" y1="556.18" x2="470.7" y2="556.18" stroke="#222" stroke-width="0.8"/>
<line x1="470.5" y1="552.3" x2="470.5" y2="652.95" stroke="#161616" stroke-width="1.1"/>
<line x1="470.15" y1="652.5" x2="500.8" y2="652.5" stroke="#161616" stroke-width="1.1"/>
<line x1="467.5" y1="554.5" x2="470.7" y2="554.5" stroke="#161616" stroke-width="1.1"/>
<text transform="translate(465.5,557.7) scale(0.95,1)" font-size="8.5" text-anchor="end" fill="#1a1a1a" stroke="#1a1a1a" stroke-width="0.3">100</text>
<line x1="467.5" y1="588.5" x2="470.7" y2="588.5" stroke="#161616" stroke-width="1.1"/>
<text transform="translate(465.5,591.4) scale(0.95,1)" font-size="8.5" text-anchor="end" fill="#1a1a1a" stroke="#1a1a1a" stroke-width="0.3">10</text>
<line x1="467.5" y1="620.5" x2="470.7" y2="620.5" stroke="#161616" stroke-width="1.1"/>
<text transform="translate(465.5,623.9) scale(0.95,1)" font-size="8.5" text-anchor="end" fill="#1a1a1a" stroke="#1a1a1a" stroke-width="0.3">1</text>
<line x1="467.5" y1="652.5" x2="470.7" y2="652.5" stroke="#161616" stroke-width="1.1"/>
<text transform="translate(465.5,655.4) scale(0.95,1)" font-size="8.5" text-anchor="end" fill="#1a1a1a" stroke="#1a1a1a" stroke-width="0.3">0.1</text>
<line x1="479.5" y1="652.4" x2="479.5" y2="655.6" stroke="#161616" stroke-width="1.1"/>
<text transform="translate(481.6,662.8) rotate(-45) scale(0.9,1)" font-size="8.6" text-anchor="end" fill="#1a1a1a" stroke="#1a1a1a" stroke-width="0.3">Cre<tspan dy="-3.1" font-size="6.02">-</tspan></text>
<line x1="493.5" y1="652.4" x2="493.5" y2="655.6" stroke="#161616" stroke-width="1.1"/>
<text transform="translate(496.2,662.8) rotate(-45) scale(0.9,1)" font-size="8.6" text-anchor="end" fill="#1a1a1a" stroke="#1a1a1a" stroke-width="0.3">Cre<tspan dy="-3.1" font-size="6.02">+</tspan></text>
<circle cx="475.9" cy="560" r="1.9" fill="#fff" stroke="#0a0a0a" stroke-width="1.2"/>
<circle cx="481" cy="556.7" r="1.9" fill="#fff" stroke="#0a0a0a" stroke-width="1.2"/>
<circle cx="476.9" cy="563.3" r="1.9" fill="#fff" stroke="#0a0a0a" stroke-width="1.2"/>
<circle cx="481.5" cy="565.1" r="1.9" fill="#fff" stroke="#0a0a0a" stroke-width="1.2"/>
<circle cx="482.3" cy="569" r="1.9" fill="#fff" stroke="#0a0a0a" stroke-width="1.2"/>
<circle cx="475.6" cy="572.3" r="1.9" fill="#fff" stroke="#0a0a0a" stroke-width="1.2"/>
<circle cx="491" cy="564.6" r="2.5" fill="#050505"/>
<circle cx="496.2" cy="564.6" r="2.5" fill="#050505"/>
<circle cx="493.6" cy="571" r="2.5" fill="#050505"/>
<circle cx="491" cy="590.8" r="2.5" fill="#050505"/>
<circle cx="495.1" cy="594.1" r="2.5" fill="#050505"/>
<circle cx="493.6" cy="611.3" r="2.5" fill="#050505"/>
<circle cx="493.1" cy="624.6" r="2.5" fill="#050505"/>
<line x1="473.8" y1="563.5" x2="484.1" y2="563.5" stroke="#111" stroke-width="1.2"/>
<line x1="488" y1="578.5" x2="499" y2="578.5" stroke="#111" stroke-width="1.2"/>
<text transform="translate(488,556.4) scale(0.85,1)" font-size="9.2" text-anchor="middle" fill="#000" font-weight="bold">*</text>
</svg>
<div id="frame"></div>
</div>
</body></html>
